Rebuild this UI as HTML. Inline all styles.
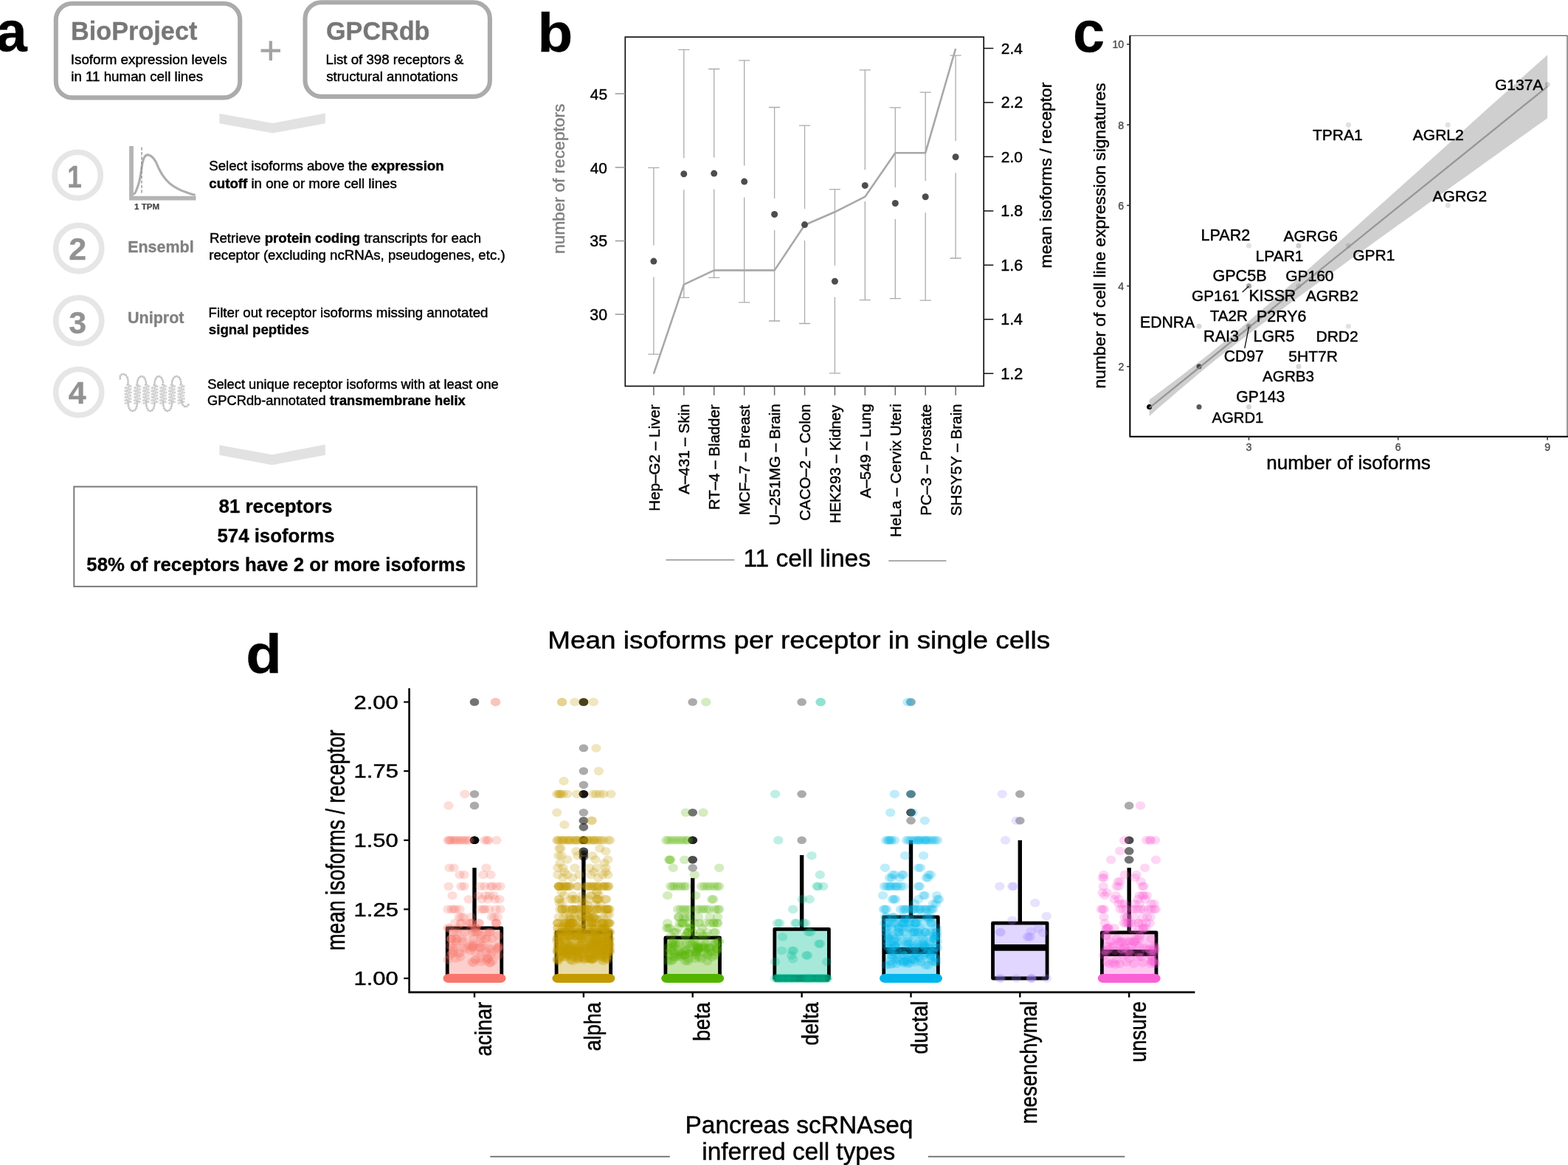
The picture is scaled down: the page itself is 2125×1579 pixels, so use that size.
<!DOCTYPE html>
<html lang="en"><head><meta charset="utf-8"><title>Figure</title>
<style>
html,body{margin:0;padding:0;background:#fff;}
body{width:2125px;height:1579px;overflow:hidden;}
svg{display:block;font-family:"Liberation Sans",sans-serif;}
ellipse.j{rx:6.7px;ry:5.8px;}
ellipse.o{rx:6.3px;ry:5.3px;}
</style></head><body>
<svg width="2125" height="1579" viewBox="0 0 2125 1579">
<rect width="2125" height="1579" fill="#fff"/>
<g id="panel-a">
<text  transform="translate(-5.58,69.20) scale(0.9920,1)" font-size="76.50" fill="#000" stroke="#000" stroke-width="0.32"><tspan font-weight="bold">a</tspan></text>
<rect x="75.8" y="4.7" width="249.4" height="127.7" rx="22" ry="22" fill="none" stroke="#ababab" stroke-width="6.1"/>
<rect x="413.5" y="3.2" width="250.4" height="127.7" rx="22" ry="22" fill="none" stroke="#ababab" stroke-width="6.1"/>
<text x="96.07" y="54.20" font-size="34.25" fill="#777" stroke="#777" stroke-width="0.32"><tspan font-weight="bold">BioProject</tspan></text>
<text x="95.81" y="87.00" font-size="18.77" fill="#000" stroke="#000" stroke-width="0.45">Isoform expression levels</text>
<text x="96.28" y="110.10" font-size="18.74" fill="#000" stroke="#000" stroke-width="0.45">in 11 human cell lines</text>
<text x="442.03" y="53.80" font-size="34.19" fill="#777" stroke="#777" stroke-width="0.32"><tspan font-weight="bold">GPCRdb</tspan></text>
<text x="441.51" y="87.00" font-size="18.67" fill="#000" stroke="#000" stroke-width="0.45">List of 398 receptors &amp;</text>
<text x="442.14" y="110.10" font-size="18.67" fill="#000" stroke="#000" stroke-width="0.45">structural annotations</text>
<path d="M353.6 68.7H380M366.8 55.5V82" stroke="#a3a3a3" stroke-width="4.3" fill="none"/>
<polygon points="297.4,154 369.7,167 440.8,153.5 440.8,167.2 369.7,180.5 297.4,167.2" fill="#e2e2e2"/>
<polygon points="297.4,603.2 368.6,616.2 440.8,602.6 440.8,616.7 368.6,630.3 297.4,616.7" fill="#e2e2e2"/>
<circle cx="105.2" cy="237.4" r="31.1" fill="none" stroke="#e6e6e6" stroke-width="7.6"/>
<text  transform="translate(91.31,253.80) scale(0.8200,1)" font-size="43.00" fill="#929292" stroke="#929292" stroke-width="0.32"><tspan font-weight="bold">1</tspan></text>
<circle cx="106.7" cy="336.5" r="31.1" fill="none" stroke="#e6e6e6" stroke-width="7.6"/>
<text x="93.17" y="352.30" font-size="43.00" fill="#929292" stroke="#929292" stroke-width="0.32"><tspan font-weight="bold">2</tspan></text>
<circle cx="106.7" cy="434.6" r="31.1" fill="none" stroke="#e6e6e6" stroke-width="7.6"/>
<text x="93.28" y="452.00" font-size="43.00" fill="#929292" stroke="#929292" stroke-width="0.32"><tspan font-weight="bold">3</tspan></text>
<circle cx="106.7" cy="531.6" r="31.1" fill="none" stroke="#e6e6e6" stroke-width="7.6"/>
<text x="92.85" y="547.20" font-size="43.00" fill="#929292" stroke="#929292" stroke-width="0.32"><tspan font-weight="bold">4</tspan></text>
<path d="M178 197.9V268.7H265.5" fill="none" stroke="#b4b4b4" stroke-width="5.8"/>
<path d="M180.6 263.2C181.0 262.9 182.2 262.7 183.0 261.6C183.8 260.5 184.4 258.9 185.3 256.5C186.2 254.1 187.6 250.7 188.5 247.0C189.4 243.3 190.3 238.5 191.0 234.3C191.7 230.1 192.2 225.2 192.9 221.7C193.7 218.2 194.3 215.4 195.5 213.4C196.7 211.4 198.2 210.1 199.9 209.9C201.6 209.7 203.8 210.8 205.6 212.2C207.4 213.6 209.0 215.7 210.7 218.5C212.4 221.3 214.0 226.0 215.7 229.3C217.4 232.6 218.5 234.9 220.8 238.1C223.1 241.3 226.1 245.2 229.7 248.3C233.3 251.4 238.1 254.3 242.3 256.5C246.5 258.7 251.3 260.2 255.0 261.6C258.7 263.0 263.0 264.1 264.6 264.6" fill="none" stroke="#adadad" stroke-width="3.1"/>
<path d="M192 199.6V263" stroke="#8c8c8c" stroke-width="1.3" stroke-dasharray="4.2 2.2" fill="none"/>
<text x="182.01" y="283.50" font-size="11.58" fill="#444" stroke="#444" stroke-width="0.21"><tspan font-weight="bold">1 TPM</tspan></text>
<text x="173.20" y="341.50" font-size="21.46" fill="#818181" stroke="#818181" stroke-width="0.32"><tspan font-weight="bold">Ensembl</tspan></text>
<text x="173.01" y="438.40" font-size="21.52" fill="#818181" stroke="#818181" stroke-width="0.32"><tspan font-weight="bold">Uniprot</tspan></text>
<text x="283.26" y="231.30" font-size="18.67" fill="#000" stroke="#000" stroke-width="0.45">Select isoforms above the <tspan font-weight="bold">expression</tspan></text>
<text x="283.35" y="254.50" font-size="18.69" fill="#000" stroke="#000" stroke-width="0.45"><tspan font-weight="bold">cutoff</tspan> in one or more cell lines</text>
<text x="284.01" y="328.70" font-size="18.67" fill="#000" stroke="#000" stroke-width="0.45">Retrieve <tspan font-weight="bold">protein coding</tspan> transcripts for each</text>
<text x="283.29" y="352.30" font-size="18.67" fill="#000" stroke="#000" stroke-width="0.45">receptor (excluding ncRNAs, pseudogenes, etc.)</text>
<text x="282.61" y="429.70" font-size="18.68" fill="#000" stroke="#000" stroke-width="0.45">Filter out receptor isoforms missing annotated</text>
<text x="282.85" y="452.90" font-size="18.70" fill="#000" stroke="#000" stroke-width="0.32"><tspan font-weight="bold">signal peptides</tspan></text>
<text x="281.18" y="526.60" font-size="18.31" fill="#000" stroke="#000" stroke-width="0.45">Select unique receptor isoforms with at least one</text>
<text x="281.09" y="549.40" font-size="18.29" fill="#000" stroke="#000" stroke-width="0.45">GPCRdb-annotated <tspan font-weight="bold">transmembrane helix</tspan></text>
<g fill="none" stroke-linecap="round" stroke-linejoin="round">
<path d="M172.5 521.5L177.7 523.6L169.3 525.7L177.7 527.8L169.3 529.9L177.7 532.0L169.3 534.1L177.7 536.2L169.3 538.3L177.7 540.4L169.3 542.5L177.7 544.6L169.3 546.7M185.0 521.5L190.2 523.6L181.8 525.7L190.2 527.8L181.8 529.9L190.2 532.0L181.8 534.1L190.2 536.2L181.8 538.3L190.2 540.4L181.8 542.5L190.2 544.6L181.8 546.7M197.0 521.5L202.2 523.6L193.8 525.7L202.2 527.8L193.8 529.9L202.2 532.0L193.8 534.1L202.2 536.2L193.8 538.3L202.2 540.4L193.8 542.5L202.2 544.6L193.8 546.7M208.5 521.5L213.7 523.6L205.3 525.7L213.7 527.8L205.3 529.9L213.7 532.0L205.3 534.1L213.7 536.2L205.3 538.3L213.7 540.4L205.3 542.5L213.7 544.6L205.3 546.7M220.0 521.5L225.2 523.6L216.8 525.7L225.2 527.8L216.8 529.9L225.2 532.0L216.8 534.1L225.2 536.2L216.8 538.3L225.2 540.4L216.8 542.5L225.2 544.6L216.8 546.7M232.0 521.5L237.2 523.6L228.8 525.7L237.2 527.8L228.8 529.9L237.2 532.0L228.8 534.1L237.2 536.2L228.8 538.3L237.2 540.4L228.8 542.5L237.2 544.6L228.8 546.7M244.5 521.5L249.7 523.6L241.3 525.7L249.7 527.8L241.3 529.9L249.7 532.0L241.3 534.1L249.7 536.2L241.3 538.3L249.7 540.4L241.3 542.5L249.7 544.6L241.3 546.7" stroke="#e4e4e4" stroke-width="3.0" stroke-opacity="0.8"/>
<path d="M172.5 521.5L177.7 523.6L169.3 525.7L177.7 527.8L169.3 529.9L177.7 532.0L169.3 534.1L177.7 536.2L169.3 538.3L177.7 540.4L169.3 542.5L177.7 544.6L169.3 546.7M185.0 521.5L190.2 523.6L181.8 525.7L190.2 527.8L181.8 529.9L190.2 532.0L181.8 534.1L190.2 536.2L181.8 538.3L190.2 540.4L181.8 542.5L190.2 544.6L181.8 546.7M197.0 521.5L202.2 523.6L193.8 525.7L202.2 527.8L193.8 529.9L202.2 532.0L193.8 534.1L202.2 536.2L193.8 538.3L202.2 540.4L193.8 542.5L202.2 544.6L193.8 546.7M208.5 521.5L213.7 523.6L205.3 525.7L213.7 527.8L205.3 529.9L213.7 532.0L205.3 534.1L213.7 536.2L205.3 538.3L213.7 540.4L205.3 542.5L213.7 544.6L205.3 546.7M220.0 521.5L225.2 523.6L216.8 525.7L225.2 527.8L216.8 529.9L225.2 532.0L216.8 534.1L225.2 536.2L216.8 538.3L225.2 540.4L216.8 542.5L225.2 544.6L216.8 546.7M232.0 521.5L237.2 523.6L228.8 525.7L237.2 527.8L228.8 529.9L237.2 532.0L228.8 534.1L237.2 536.2L228.8 538.3L237.2 540.4L228.8 542.5L237.2 544.6L228.8 546.7M244.5 521.5L249.7 523.6L241.3 525.7L249.7 527.8L241.3 529.9L249.7 532.0L241.3 534.1L249.7 536.2L241.3 538.3L249.7 540.4L241.3 542.5L249.7 544.6L241.3 546.7" stroke="#cdcdcd" stroke-width="2.3" stroke-dasharray="0.01 3.1"/>
<path d="M162.8 513 C161.5 507.5 167.5 505 171 509 C174 512.5 173.5 518 173.5 522M173.5 544C173.0 561.5 186.5 561.5 186.0 544M186.0 522C185.5 506 198.5 506 198.0 522M198.0 544C197.5 561.5 210.0 561.5 209.5 544M209.5 522C209.0 506 221.5 506 221.0 522M221.0 544C220.5 561.5 233.5 561.5 233.0 544M233.0 522C232.5 506 246.0 506 245.5 522M245.5 543C247 550 250.5 552.5 253.5 550.5L257 546.5" stroke="#c4c4c4" stroke-width="3.0" stroke-dasharray="0.01 3.1"/>
</g>
<rect x="100.3" y="659.6" width="545.8" height="135.3" fill="none" stroke="#7a7a7a" stroke-width="2"/>
<text x="296.62" y="695.20" font-size="25.86" fill="#000" stroke="#000" stroke-width="0.32"><tspan font-weight="bold">81 receptors</tspan></text>
<text x="294.43" y="734.70" font-size="25.82" fill="#000" stroke="#000" stroke-width="0.32"><tspan font-weight="bold">574 isoforms</tspan></text>
<text x="117.33" y="774.30" font-size="25.75" fill="#000" stroke="#000" stroke-width="0.32"><tspan font-weight="bold">58% of receptors have 2 or more isoforms</tspan></text>
</g>
<g id="panel-b">
<text  transform="translate(728.62,69.90) scale(1.0429,1)" font-size="75.00" fill="#000" stroke="#000" stroke-width="0.32"><tspan font-weight="bold">b</tspan></text>
<path d="M878.3 227.3H893.5M885.9 227.3V332.6M885.9 375.6V480.2M878.3 480.2H893.5M919.2 67.3H934.4M926.8 67.3V214.2M926.8 257.2V403.4M919.2 403.4H934.4M960.1 93.5H975.3M967.7 93.5V213.6M967.7 256.6V376.4M960.1 376.4H975.3M1001.1 81.9H1016.3M1008.7 81.9V224.6M1008.7 267.6V409.9M1001.1 409.9H1016.3M1042.0 145.5H1057.2M1049.6 145.5V269.0M1049.6 312.0V435.0M1042.0 435.0H1057.2M1082.9 170.2H1098.1M1090.5 170.2V283.1M1090.5 326.1V438.5M1082.9 438.5H1098.1M1123.8 256.7H1139.0M1131.4 256.7V359.8M1131.4 402.8V505.9M1123.8 505.9H1139.0M1164.7 94.9H1179.9M1172.3 94.9V229.9M1172.3 272.9V406.7M1164.7 406.7H1179.9M1205.7 145.8H1220.9M1213.3 145.8V254.0M1213.3 297.0V404.6M1205.7 404.6H1220.9M1246.6 125.2H1261.8M1254.2 125.2V245.2M1254.2 288.2V407.1M1246.6 407.1H1261.8M1287.5 75.1H1302.7M1295.1 75.1V191.2M1295.1 234.2V350.0M1287.5 350.0H1302.7" fill="none" stroke="#ababab" stroke-width="1.3"/>
<polyline points="885.9,506.6 926.8,385.6 967.7,366.4 1008.7,366.4 1049.6,366.4 1090.5,305.0 1131.4,287.3 1172.3,266.7 1213.3,207.2 1254.2,207.2 1295.1,66.0" fill="none" stroke="#a8a8a8" stroke-width="2.6" stroke-linejoin="round"/>
<circle cx="885.9" cy="354.1" r="4.5" fill="#4d4d4d"/>
<circle cx="926.8" cy="235.7" r="4.5" fill="#4d4d4d"/>
<circle cx="967.7" cy="235.1" r="4.5" fill="#4d4d4d"/>
<circle cx="1008.7" cy="246.1" r="4.5" fill="#4d4d4d"/>
<circle cx="1049.6" cy="290.5" r="4.5" fill="#4d4d4d"/>
<circle cx="1090.5" cy="304.6" r="4.5" fill="#4d4d4d"/>
<circle cx="1131.4" cy="381.3" r="4.5" fill="#4d4d4d"/>
<circle cx="1172.3" cy="251.4" r="4.5" fill="#4d4d4d"/>
<circle cx="1213.3" cy="275.5" r="4.5" fill="#4d4d4d"/>
<circle cx="1254.2" cy="266.7" r="4.5" fill="#4d4d4d"/>
<circle cx="1295.1" cy="212.7" r="4.5" fill="#4d4d4d"/>
<rect x="847.3" y="50.2" width="485.9" height="473.2" fill="none" stroke="#111" stroke-width="1.7"/>
<path d="M833.7 127.0H847.3" stroke="#999" stroke-width="1.5"/>
<text x="799.78" y="134.60" font-size="20.95" fill="#000" stroke="#000" stroke-width="0.45">45</text>
<path d="M833.7 226.9H847.3" stroke="#999" stroke-width="1.5"/>
<text x="799.78" y="234.50" font-size="20.85" fill="#000" stroke="#000" stroke-width="0.45">40</text>
<path d="M833.7 326.5H847.3" stroke="#999" stroke-width="1.5"/>
<text x="799.35" y="334.10" font-size="21.36" fill="#000" stroke="#000" stroke-width="0.45">35</text>
<path d="M833.7 426.0H847.3" stroke="#999" stroke-width="1.5"/>
<text x="799.35" y="433.60" font-size="21.26" fill="#000" stroke="#000" stroke-width="0.45">30</text>
<path d="M1333.2 65.5H1346.3" stroke="#111" stroke-width="1.5"/>
<text x="1356.85" y="72.80" font-size="20.92" fill="#000" stroke="#000" stroke-width="0.45">2.4</text>
<path d="M1333.2 138.9H1346.3" stroke="#111" stroke-width="1.5"/>
<text x="1356.84" y="146.25" font-size="21.24" fill="#000" stroke="#000" stroke-width="0.45">2.2</text>
<path d="M1333.2 212.4H1346.3" stroke="#111" stroke-width="1.5"/>
<text x="1356.85" y="219.70" font-size="21.00" fill="#000" stroke="#000" stroke-width="0.45">2.0</text>
<path d="M1333.2 285.9H1346.3" stroke="#111" stroke-width="1.5"/>
<text x="1356.29" y="293.15" font-size="21.49" fill="#000" stroke="#000" stroke-width="0.45">1.8</text>
<path d="M1333.2 359.3H1346.3" stroke="#111" stroke-width="1.5"/>
<text x="1356.29" y="366.60" font-size="21.49" fill="#000" stroke="#000" stroke-width="0.45">1.6</text>
<path d="M1333.2 432.8H1346.3" stroke="#111" stroke-width="1.5"/>
<text x="1356.30" y="440.05" font-size="21.32" fill="#000" stroke="#000" stroke-width="0.45">1.4</text>
<path d="M1333.2 506.2H1346.3" stroke="#111" stroke-width="1.5"/>
<text x="1356.28" y="513.50" font-size="21.66" fill="#000" stroke="#000" stroke-width="0.45">1.2</text>
<path d="M885.9 523.4V535.8M926.8 523.4V535.8M967.7 523.4V535.8M1008.7 523.4V535.8M1049.6 523.4V535.8M1090.5 523.4V535.8M1131.4 523.4V535.8M1172.3 523.4V535.8M1213.3 523.4V535.8M1254.2 523.4V535.8M1295.1 523.4V535.8" stroke="#666" stroke-width="1.5"/>
<text transform="translate(893.50,692.65) rotate(-90) scale(1.0152,1.0000)" font-size="20.30" fill="#000" stroke="#000" stroke-width="0.45">Hep–G2 – Liver</text>
<text transform="translate(934.42,669.90) rotate(-90) scale(1.0145,1.0000)" font-size="20.30" fill="#000" stroke="#000" stroke-width="0.45">A–431 – Skin</text>
<text transform="translate(975.34,691.03) rotate(-90) scale(1.0060,1.0000)" font-size="20.30" fill="#000" stroke="#000" stroke-width="0.45">RT–4 – Bladder</text>
<text transform="translate(1016.26,698.14) rotate(-90) scale(1.0119,1.0000)" font-size="20.30" fill="#000" stroke="#000" stroke-width="0.45">MCF–7 – Breast</text>
<text transform="translate(1057.18,711.64) rotate(-90) scale(1.0109,1.0000)" font-size="20.30" fill="#000" stroke="#000" stroke-width="0.45">U–251MG – Brain</text>
<text transform="translate(1098.10,705.72) rotate(-90) scale(1.0098,1.0000)" font-size="20.30" fill="#000" stroke="#000" stroke-width="0.45">CACO–2 – Colon</text>
<text transform="translate(1139.02,709.13) rotate(-90) scale(1.0010,1.0000)" font-size="20.30" fill="#000" stroke="#000" stroke-width="0.45">HEK293 – Kidney</text>
<text transform="translate(1179.94,675.30) rotate(-90) scale(1.0124,1.0000)" font-size="20.30" fill="#000" stroke="#000" stroke-width="0.45">A–549 – Lung</text>
<text transform="translate(1220.86,728.06) rotate(-90) scale(1.0202,1.0000)" font-size="20.30" fill="#000" stroke="#000" stroke-width="0.45">HeLa – Cervix Uteri</text>
<text transform="translate(1261.78,698.85) rotate(-90) scale(1.0146,1.0000)" font-size="20.30" fill="#000" stroke="#000" stroke-width="0.45">PC–3 – Prostate</text>
<text transform="translate(1302.70,699.33) rotate(-90) scale(1.0151,1.0000)" font-size="20.30" fill="#000" stroke="#000" stroke-width="0.45">SHSY5Y – Brain</text>
<text transform="translate(765.40,343.88) rotate(-90) scale(1.0000,1.0000)" font-size="22.73" fill="#808080" stroke="#808080" stroke-width="0.45">number of receptors</text>
<text transform="translate(1424.90,363.48) rotate(-90) scale(1.0000,1.0000)" font-size="22.78" fill="#000" stroke="#000" stroke-width="0.45">mean isoforms / receptor</text>
<text x="1007.39" y="767.50" font-size="33.51" fill="#000" stroke="#000" stroke-width="0.45">11 cell lines</text>
<path d="M902.4 758.8H995.3M1204.2 760.2H1282.4" stroke="#a0a0a0" stroke-width="1.7"/>
</g>
<g id="panel-c">
<text  transform="translate(1454.10,69.50) scale(1.0003,1)" font-size="77.50" fill="#000" stroke="#000" stroke-width="0.32"><tspan font-weight="bold">c</tspan></text>
<polygon points="1557.6,541.7 1571.1,531.7 1584.6,521.6 1598.1,511.4 1611.6,501.1 1625.0,490.6 1638.5,479.9 1652.0,469.1 1665.5,458.0 1679.0,446.7 1692.5,435.2 1706.0,423.6 1719.5,411.9 1732.9,400.1 1746.4,388.3 1759.9,376.4 1773.4,364.5 1786.9,352.5 1800.4,340.5 1813.9,328.5 1827.4,316.4 1840.8,304.4 1854.3,292.3 1867.8,280.3 1881.3,268.2 1894.8,256.1 1908.3,244.0 1921.8,231.9 1935.3,219.8 1948.8,207.7 1962.2,195.6 1975.7,183.5 1989.2,171.4 2002.7,159.3 2016.2,147.1 2029.7,135.0 2043.2,122.9 2056.7,110.8 2070.1,98.6 2083.6,86.5 2097.1,74.4 2097.1,160.2 2083.6,169.8 2070.1,179.5 2056.7,189.1 2043.2,198.8 2029.7,208.4 2016.2,218.1 2002.7,227.7 1989.2,237.4 1975.7,247.1 1962.2,256.7 1948.8,266.4 1935.3,276.1 1921.8,285.7 1908.3,295.4 1894.8,305.1 1881.3,314.8 1867.8,324.5 1854.3,334.2 1840.8,343.9 1827.4,353.6 1813.9,363.4 1800.4,373.1 1786.9,382.9 1773.4,392.7 1759.9,402.6 1746.4,412.4 1732.9,422.4 1719.5,432.4 1706.0,442.4 1692.5,452.6 1679.0,462.9 1665.5,473.4 1652.0,484.1 1638.5,495.0 1625.0,506.1 1611.6,517.4 1598.1,528.8 1584.6,540.4 1571.1,552.1 1557.6,563.9" fill="#999" fill-opacity="0.47"/>
<circle cx="1557.6" cy="551.4" r="3.5" fill="#000" fill-opacity="1.0"/>
<circle cx="1625.0" cy="551.4" r="3.5" fill="#222" fill-opacity="0.75"/>
<circle cx="1625.0" cy="496.8" r="3.5" fill="#222" fill-opacity="0.8"/>
<circle cx="1692.5" cy="551.4" r="3.5" fill="#333" fill-opacity="0.2"/>
<circle cx="1625.0" cy="442.2" r="3.5" fill="#333" fill-opacity="0.2"/>
<circle cx="1692.5" cy="442.2" r="3.5" fill="#333" fill-opacity="0.4"/>
<circle cx="1692.5" cy="387.6" r="3.5" fill="#333" fill-opacity="0.45"/>
<circle cx="1692.5" cy="333.0" r="3.5" fill="#333" fill-opacity="0.15"/>
<circle cx="1759.9" cy="333.0" r="3.5" fill="#333" fill-opacity="0.25"/>
<circle cx="1827.4" cy="333.0" r="3.5" fill="#333" fill-opacity="0.15"/>
<circle cx="1759.9" cy="387.6" r="3.5" fill="#333" fill-opacity="0.15"/>
<circle cx="1759.9" cy="496.8" r="3.5" fill="#333" fill-opacity="0.2"/>
<circle cx="1827.4" cy="442.2" r="3.5" fill="#333" fill-opacity="0.15"/>
<circle cx="1827.4" cy="169.2" r="3.5" fill="#333" fill-opacity="0.15"/>
<circle cx="1962.2" cy="169.2" r="3.5" fill="#333" fill-opacity="0.15"/>
<circle cx="1962.2" cy="278.4" r="3.5" fill="#333" fill-opacity="0.15"/>
<circle cx="2097.1" cy="114.6" r="3.5" fill="#333" fill-opacity="0.2"/>
<path d="M1557.6 552.8L2097.1 117.3" stroke="#8c8c8c" stroke-opacity="0.85" stroke-width="2.3" fill="none"/>
<path d="M1683.7 396L1692.3 388M1686.8 472L1692.7 442.5" stroke="#111" stroke-width="1.3" fill="none"/>
<rect x="1531.4" y="48.3" width="592.6" height="543.4" fill="none" stroke="#555" stroke-width="1.2"/>
<path d="M1531.4 48.3V591.7H2125" fill="none" stroke="#000" stroke-width="2"/>
<path d="M1527.2 496.8H1531.4" stroke="#333" stroke-width="1.6"/>
<text  transform="translate(1515.50,502.20) scale(0.9500,1)" font-size="15.00" fill="#4d4d4d" stroke="#4d4d4d" stroke-width="0.38">2</text>
<path d="M1527.2 387.6H1531.4" stroke="#333" stroke-width="1.6"/>
<text  transform="translate(1515.22,393.00) scale(0.9500,1)" font-size="15.00" fill="#4d4d4d" stroke="#4d4d4d" stroke-width="0.38">4</text>
<path d="M1527.2 278.4H1531.4" stroke="#333" stroke-width="1.6"/>
<text  transform="translate(1515.36,283.80) scale(0.9500,1)" font-size="15.00" fill="#4d4d4d" stroke="#4d4d4d" stroke-width="0.38">6</text>
<path d="M1527.2 169.2H1531.4" stroke="#333" stroke-width="1.6"/>
<text  transform="translate(1515.36,174.60) scale(0.9500,1)" font-size="15.00" fill="#4d4d4d" stroke="#4d4d4d" stroke-width="0.38">8</text>
<path d="M1527.2 60.0H1531.4" stroke="#333" stroke-width="1.6"/>
<text  transform="translate(1507.38,65.40) scale(0.9500,1)" font-size="15.00" fill="#4d4d4d" stroke="#4d4d4d" stroke-width="0.38">10</text>
<path d="M1692.5 591.7V596.6" stroke="#333" stroke-width="1.6"/>
<text  transform="translate(1688.53,610.60) scale(0.9500,1)" font-size="15.00" fill="#4d4d4d" stroke="#4d4d4d" stroke-width="0.38">3</text>
<path d="M1894.8 591.7V596.6" stroke="#333" stroke-width="1.6"/>
<text  transform="translate(1890.77,610.60) scale(0.9500,1)" font-size="15.00" fill="#4d4d4d" stroke="#4d4d4d" stroke-width="0.38">6</text>
<path d="M2097.1 591.7V596.6" stroke="#333" stroke-width="1.6"/>
<text  transform="translate(2093.17,610.60) scale(0.9500,1)" font-size="15.00" fill="#4d4d4d" stroke="#4d4d4d" stroke-width="0.38">9</text>
<text x="2025.95" y="121.90" font-size="21.00" fill="#000" stroke="#000" stroke-width="0.45">G137A</text>
<text x="1778.98" y="190.30" font-size="21.00" fill="#000" stroke="#000" stroke-width="0.45">TPRA1</text>
<text x="1914.80" y="190.30" font-size="21.00" fill="#000" stroke="#000" stroke-width="0.45">AGRL2</text>
<text x="1941.60" y="272.60" font-size="21.00" fill="#000" stroke="#000" stroke-width="0.45">AGRG2</text>
<text x="1627.58" y="326.40" font-size="21.52" fill="#000" stroke="#000" stroke-width="0.45">LPAR2</text>
<text x="1739.40" y="326.80" font-size="21.00" fill="#000" stroke="#000" stroke-width="0.45">AGRG6</text>
<text x="1701.52" y="353.60" font-size="21.00" fill="#000" stroke="#000" stroke-width="0.45">LPAR1</text>
<text x="1833.15" y="353.20" font-size="21.00" fill="#000" stroke="#000" stroke-width="0.45">GPR1</text>
<text x="1643.42" y="380.60" font-size="21.58" fill="#000" stroke="#000" stroke-width="0.45">GPC5B</text>
<text x="1742.15" y="381.40" font-size="21.00" fill="#000" stroke="#000" stroke-width="0.45">GP160</text>
<text x="1615.06" y="408.20" font-size="20.80" fill="#000" stroke="#000" stroke-width="0.45">GP161</text>
<text x="1692.40" y="408.20" font-size="21.25" fill="#000" stroke="#000" stroke-width="0.45">KISSR</text>
<text x="1769.70" y="408.20" font-size="21.00" fill="#000" stroke="#000" stroke-width="0.45">AGRB2</text>
<text x="1639.69" y="435.40" font-size="20.58" fill="#000" stroke="#000" stroke-width="0.45">TA2R</text>
<text x="1703.09" y="436.00" font-size="21.35" fill="#000" stroke="#000" stroke-width="0.45">P2RY6</text>
<text x="1545.00" y="444.40" font-size="21.20" fill="#000" stroke="#000" stroke-width="0.45">EDNRA</text>
<text x="1631.07" y="463.00" font-size="21.57" fill="#000" stroke="#000" stroke-width="0.45">RAI3</text>
<text x="1698.59" y="463.00" font-size="21.37" fill="#000" stroke="#000" stroke-width="0.45">LGR5</text>
<text x="1783.52" y="463.40" font-size="21.00" fill="#000" stroke="#000" stroke-width="0.45">DRD2</text>
<text x="1658.64" y="490.00" font-size="21.22" fill="#000" stroke="#000" stroke-width="0.45">CD97</text>
<text x="1746.36" y="490.40" font-size="21.00" fill="#000" stroke="#000" stroke-width="0.45">5HT7R</text>
<text x="1711.10" y="517.30" font-size="20.63" fill="#000" stroke="#000" stroke-width="0.45">AGRB3</text>
<text x="1675.34" y="545.00" font-size="21.16" fill="#000" stroke="#000" stroke-width="0.45">GP143</text>
<text x="1642.60" y="573.30" font-size="20.26" fill="#000" stroke="#000" stroke-width="0.45">AGRD1</text>
<text x="1716.21" y="636.00" font-size="26.03" fill="#000" stroke="#000" stroke-width="0.45">number of isoforms</text>
<text transform="translate(1498.30,526.49) rotate(-90) scale(1.0000,1.0000)" font-size="22.86" fill="#000" stroke="#000" stroke-width="0.45">number of cell line expression signatures</text>
</g>
<g id="panel-d">
<text  transform="translate(333.22,912.30) scale(1.0587,1)" font-size="75.00" fill="#000" stroke="#000" stroke-width="0.32"><tspan font-weight="bold">d</tspan></text>
<text  transform="translate(742.25,878.90) scale(1.1052,1)" font-size="33.40" fill="#000" stroke="#000" stroke-width="0.45">Mean isoforms per receptor in single cells</text>
<g><rect x="606.2" y="1257.8" width="73.6" height="68.2" fill="#F8766D" fill-opacity="0.35" stroke="none"/><path d="M643.0 1257.8V1176.2" stroke="#000" stroke-width="5.4" fill="none"/><rect x="606.2" y="1257.8" width="73.6" height="68.2" fill="none" stroke="#000" stroke-width="4.8" stroke-linejoin="round"/><path d="M606.2 1326.0H679.8" stroke="#000" stroke-width="8.8" fill="none"/><g fill="#000" fill-opacity="0.33"><ellipse class="o" cx="643.0" cy="951.5"/><ellipse class="o" cx="643.0" cy="951.5"/><ellipse class="o" cx="643.0" cy="1076.2"/><ellipse class="o" cx="643.0" cy="1091.9"/><ellipse class="o" cx="643.0" cy="1138.8"/><ellipse class="o" cx="643.0" cy="1138.8"/><ellipse class="o" cx="643.0" cy="1138.8"/><ellipse class="o" cx="643.0" cy="1138.8"/><ellipse class="o" cx="643.0" cy="1138.8"/><ellipse class="o" cx="643.0" cy="1138.8"/><ellipse class="o" cx="643.0" cy="1138.8"/><ellipse class="o" cx="643.0" cy="1138.8"/></g><g fill="#F8766D" fill-opacity="0.25"><ellipse class="j" cx="620.2" cy="1257.8"/><ellipse class="j" cx="609.0" cy="1176.2"/><ellipse class="j" cx="648.0" cy="1213.7"/><ellipse class="j" cx="632.5" cy="1251.1"/><ellipse class="j" cx="630.5" cy="1263.5"/><ellipse class="j" cx="660.2" cy="1299.3"/><ellipse class="j" cx="671.3" cy="951.5"/><ellipse class="j" cx="611.2" cy="1272.5"/><ellipse class="j" cx="664.7" cy="1286.6"/><ellipse class="j" cx="665.0" cy="1294.8"/><ellipse class="j" cx="610.0" cy="1138.8"/><ellipse class="j" cx="616.4" cy="1251.1"/><ellipse class="j" cx="672.5" cy="1251.1"/><ellipse class="j" cx="666.0" cy="1290.3"/><ellipse class="j" cx="678.0" cy="1201.3"/><ellipse class="j" cx="637.2" cy="1288.5"/><ellipse class="j" cx="649.0" cy="1251.1"/><ellipse class="j" cx="644.9" cy="1301.0"/><ellipse class="j" cx="676.0" cy="1282.0"/><ellipse class="j" cx="658.0" cy="1213.7"/><ellipse class="j" cx="671.0" cy="1218.9"/><ellipse class="j" cx="621.0" cy="1138.8"/><ellipse class="j" cx="669.8" cy="1242.9"/><ellipse class="j" cx="641.6" cy="1272.5"/><ellipse class="j" cx="640.0" cy="1251.1"/><ellipse class="j" cx="624.0" cy="1138.8"/><ellipse class="j" cx="651.0" cy="1299.3"/><ellipse class="j" cx="622.2" cy="1242.9"/><ellipse class="j" cx="644.7" cy="1257.8"/><ellipse class="j" cx="666.5" cy="1242.9"/><ellipse class="j" cx="653.9" cy="1282.0"/><ellipse class="j" cx="672.1" cy="1251.1"/><ellipse class="j" cx="607.0" cy="1232.4"/><ellipse class="j" cx="625.7" cy="1251.1"/><ellipse class="j" cx="666.7" cy="1272.5"/><ellipse class="j" cx="628.1" cy="1242.9"/><ellipse class="j" cx="636.0" cy="1138.8"/><ellipse class="j" cx="641.1" cy="1263.5"/><ellipse class="j" cx="616.0" cy="1138.8"/><ellipse class="j" cx="649.0" cy="1284.4"/><ellipse class="j" cx="608.3" cy="1257.8"/><ellipse class="j" cx="652.4" cy="1292.0"/><ellipse class="j" cx="608.0" cy="1091.9"/><ellipse class="j" cx="644.3" cy="1263.5"/><ellipse class="j" cx="613.5" cy="1292.0"/><ellipse class="j" cx="607.0" cy="1138.8"/><ellipse class="j" cx="649.2" cy="1251.1"/><ellipse class="j" cx="671.8" cy="951.5"/><ellipse class="j" cx="644.3" cy="1290.3"/><ellipse class="j" cx="665.0" cy="1185.6"/><ellipse class="j" cx="651.2" cy="1284.4"/><ellipse class="j" cx="608.0" cy="1201.3"/><ellipse class="j" cx="673.0" cy="1201.3"/><ellipse class="j" cx="662.0" cy="1138.8"/><ellipse class="j" cx="638.7" cy="1257.8"/><ellipse class="j" cx="677.0" cy="1218.9"/><ellipse class="j" cx="617.9" cy="1299.3"/><ellipse class="j" cx="618.0" cy="1138.8"/><ellipse class="j" cx="673.0" cy="1138.8"/><ellipse class="j" cx="660.0" cy="1138.8"/><ellipse class="j" cx="623.3" cy="1292.0"/><ellipse class="j" cx="624.3" cy="1251.1"/><ellipse class="j" cx="672.0" cy="1232.4"/><ellipse class="j" cx="637.2" cy="1251.1"/><ellipse class="j" cx="619.0" cy="1272.5"/><ellipse class="j" cx="610.6" cy="1282.0"/><ellipse class="j" cx="618.7" cy="1276.1"/><ellipse class="j" cx="611.5" cy="1272.5"/><ellipse class="j" cx="657.0" cy="1232.4"/><ellipse class="j" cx="659.5" cy="1272.5"/><ellipse class="j" cx="650.9" cy="1279.2"/><ellipse class="j" cx="655.0" cy="1232.4"/><ellipse class="j" cx="614.0" cy="1284.4"/><ellipse class="j" cx="619.4" cy="1263.5"/><ellipse class="j" cx="617.7" cy="1282.0"/><ellipse class="j" cx="657.0" cy="1201.3"/><ellipse class="j" cx="675.5" cy="1294.8"/><ellipse class="j" cx="663.9" cy="1305.2"/><ellipse class="j" cx="661.0" cy="1218.9"/><ellipse class="j" cx="629.0" cy="1185.6"/><ellipse class="j" cx="640.3" cy="1282.0"/><ellipse class="j" cx="663.0" cy="1213.7"/><ellipse class="j" cx="659.2" cy="1263.5"/><ellipse class="j" cx="609.7" cy="1294.8"/><ellipse class="j" cx="613.0" cy="1138.8"/><ellipse class="j" cx="628.6" cy="1284.4"/><ellipse class="j" cx="623.0" cy="1185.6"/><ellipse class="j" cx="662.6" cy="1284.4"/><ellipse class="j" cx="651.0" cy="1232.4"/><ellipse class="j" cx="651.9" cy="1272.5"/><ellipse class="j" cx="661.6" cy="1299.3"/><ellipse class="j" cx="635.0" cy="1218.9"/><ellipse class="j" cx="674.2" cy="1242.9"/><ellipse class="j" cx="667.1" cy="1302.6"/><ellipse class="j" cx="607.3" cy="1257.8"/><ellipse class="j" cx="647.0" cy="1263.5"/><ellipse class="j" cx="629.9" cy="1076.2"/><ellipse class="j" cx="657.0" cy="1138.8"/><ellipse class="j" cx="674.7" cy="1284.4"/><ellipse class="j" cx="618.2" cy="1272.5"/><ellipse class="j" cx="655.0" cy="1185.6"/><ellipse class="j" cx="612.9" cy="1292.0"/><ellipse class="j" cx="647.1" cy="1263.5"/><ellipse class="j" cx="625.9" cy="1272.5"/><ellipse class="j" cx="659.2" cy="1302.6"/><ellipse class="j" cx="612.0" cy="1272.5"/><ellipse class="j" cx="635.7" cy="1282.0"/><ellipse class="j" cx="657.2" cy="1272.5"/><ellipse class="j" cx="652.8" cy="1268.4"/><ellipse class="j" cx="643.1" cy="1257.8"/><ellipse class="j" cx="637.3" cy="1251.1"/><ellipse class="j" cx="664.5" cy="1263.5"/><ellipse class="j" cx="627.5" cy="1276.1"/><ellipse class="j" cx="663.5" cy="1263.5"/><ellipse class="j" cx="674.2" cy="1286.6"/><ellipse class="j" cx="614.6" cy="1263.5"/><ellipse class="j" cx="641.1" cy="1284.4"/><ellipse class="j" cx="613.0" cy="1213.7"/><ellipse class="j" cx="623.7" cy="1297.2"/><ellipse class="j" cx="659.0" cy="1176.2"/><ellipse class="j" cx="641.5" cy="1305.2"/><ellipse class="j" cx="675.4" cy="1268.4"/><ellipse class="j" cx="645.3" cy="1257.8"/><ellipse class="j" cx="651.6" cy="1304.0"/><ellipse class="j" cx="661.0" cy="1299.3"/><ellipse class="j" cx="641.4" cy="1282.0"/><ellipse class="j" cx="639.2" cy="1284.4"/><ellipse class="j" cx="639.9" cy="1304.0"/><ellipse class="j" cx="609.0" cy="1138.8"/><ellipse class="j" cx="607.0" cy="1301.0"/><ellipse class="j" cx="630.0" cy="1138.8"/><ellipse class="j" cx="669.0" cy="1213.7"/><ellipse class="j" cx="638.2" cy="1242.9"/><ellipse class="j" cx="667.0" cy="1201.3"/><ellipse class="j" cx="678.0" cy="1232.4"/><ellipse class="j" cx="612.0" cy="1232.4"/><ellipse class="j" cx="615.0" cy="1176.2"/><ellipse class="j" cx="665.0" cy="1201.3"/><ellipse class="j" cx="629.0" cy="1201.3"/><ellipse class="j" cx="618.0" cy="1232.4"/><ellipse class="j" cx="663.0" cy="1232.4"/><ellipse class="j" cx="675.8" cy="1284.4"/><ellipse class="j" cx="651.0" cy="1201.3"/><ellipse class="j" cx="623.0" cy="1232.4"/><ellipse class="j" cx="673.1" cy="1251.1"/><ellipse class="j" cx="627.0" cy="1138.8"/><ellipse class="j" cx="631.5" cy="1286.6"/><ellipse class="j" cx="614.4" cy="1288.5"/><ellipse class="j" cx="615.0" cy="1232.4"/><ellipse class="j" cx="633.0" cy="1138.8"/><ellipse class="j" cx="625.0" cy="1201.3"/><ellipse class="j" cx="657.9" cy="1290.3"/><ellipse class="j" cx="640.5" cy="1279.2"/><ellipse class="j" cx="625.1" cy="1242.9"/><ellipse class="j" cx="621.4" cy="1292.0"/><ellipse class="j" cx="664.6" cy="1305.2"/><ellipse class="j" cx="643.9" cy="1301.0"/><ellipse class="j" cx="653.0" cy="1218.9"/></g><rect x="600.5" y="1320.0" width="85.0" height="12" rx="7" ry="6" fill="#F8766D"/></g>
<g><rect x="754.1" y="1263.5" width="73.6" height="62.5" fill="#C49A00" fill-opacity="0.35" stroke="none"/><path d="M790.9 1263.5V1161.2" stroke="#000" stroke-width="5.4" fill="none"/><rect x="754.1" y="1263.5" width="73.6" height="62.5" fill="none" stroke="#000" stroke-width="4.8" stroke-linejoin="round"/><path d="M754.1 1326.0H827.7" stroke="#000" stroke-width="8.8" fill="none"/><g fill="#000" fill-opacity="0.33"><ellipse class="o" cx="790.9" cy="951.5"/><ellipse class="o" cx="790.9" cy="951.5"/><ellipse class="o" cx="790.9" cy="951.5"/><ellipse class="o" cx="790.9" cy="951.5"/><ellipse class="o" cx="790.9" cy="951.5"/><ellipse class="o" cx="790.9" cy="1014.0"/><ellipse class="o" cx="790.9" cy="1045.1"/><ellipse class="o" cx="790.9" cy="1063.8"/><ellipse class="o" cx="790.9" cy="1076.2"/><ellipse class="o" cx="790.9" cy="1076.2"/><ellipse class="o" cx="790.9" cy="1076.2"/><ellipse class="o" cx="790.9" cy="1076.2"/><ellipse class="o" cx="790.9" cy="1076.2"/><ellipse class="o" cx="790.9" cy="1076.2"/><ellipse class="o" cx="790.9" cy="1101.3"/><ellipse class="o" cx="790.9" cy="1112.2"/><ellipse class="o" cx="790.9" cy="1112.2"/><ellipse class="o" cx="790.9" cy="1121.1"/><ellipse class="o" cx="790.9" cy="1121.1"/><ellipse class="o" cx="790.9" cy="1138.8"/><ellipse class="o" cx="790.9" cy="1138.8"/><ellipse class="o" cx="790.9" cy="1138.8"/><ellipse class="o" cx="790.9" cy="1138.8"/><ellipse class="o" cx="790.9" cy="1138.8"/><ellipse class="o" cx="790.9" cy="1138.8"/><ellipse class="o" cx="790.9" cy="1138.8"/><ellipse class="o" cx="790.9" cy="1138.8"/><ellipse class="o" cx="790.9" cy="1153.7"/><ellipse class="o" cx="790.9" cy="1153.7"/><ellipse class="o" cx="790.9" cy="1153.7"/><ellipse class="o" cx="790.9" cy="1157.5"/><ellipse class="o" cx="790.9" cy="1157.5"/><ellipse class="o" cx="790.9" cy="1161.2"/><ellipse class="o" cx="790.9" cy="1161.2"/></g><g fill="#C49A00" fill-opacity="0.25"><ellipse class="j" cx="781.5" cy="1263.5"/><ellipse class="j" cx="786.0" cy="1255.8"/><ellipse class="j" cx="806.6" cy="1279.2"/><ellipse class="j" cx="815.8" cy="1251.1"/><ellipse class="j" cx="772.8" cy="1268.4"/><ellipse class="j" cx="822.0" cy="1279.2"/><ellipse class="j" cx="815.4" cy="1297.2"/><ellipse class="j" cx="808.9" cy="1176.2"/><ellipse class="j" cx="789.1" cy="1263.5"/><ellipse class="j" cx="781.7" cy="1284.4"/><ellipse class="j" cx="768.5" cy="1286.6"/><ellipse class="j" cx="805.9" cy="1138.8"/><ellipse class="j" cx="766.7" cy="1263.5"/><ellipse class="j" cx="821.8" cy="1218.9"/><ellipse class="j" cx="819.0" cy="1284.4"/><ellipse class="j" cx="823.2" cy="1201.3"/><ellipse class="j" cx="820.9" cy="1181.8"/><ellipse class="j" cx="802.2" cy="1284.4"/><ellipse class="j" cx="801.1" cy="1255.8"/><ellipse class="j" cx="778.5" cy="1257.8"/><ellipse class="j" cx="817.7" cy="1257.8"/><ellipse class="j" cx="756.5" cy="1282.0"/><ellipse class="j" cx="823.0" cy="1276.1"/><ellipse class="j" cx="754.9" cy="1138.8"/><ellipse class="j" cx="770.9" cy="1138.8"/><ellipse class="j" cx="759.7" cy="1272.5"/><ellipse class="j" cx="816.5" cy="1201.3"/><ellipse class="j" cx="763.8" cy="1255.8"/><ellipse class="j" cx="803.9" cy="1076.2"/><ellipse class="j" cx="801.4" cy="1232.4"/><ellipse class="j" cx="818.6" cy="1201.3"/><ellipse class="j" cx="812.9" cy="1150.0"/><ellipse class="j" cx="758.4" cy="1276.1"/><ellipse class="j" cx="823.8" cy="1232.4"/><ellipse class="j" cx="819.1" cy="1232.4"/><ellipse class="j" cx="771.9" cy="1251.1"/><ellipse class="j" cx="825.4" cy="1272.5"/><ellipse class="j" cx="807.3" cy="1290.3"/><ellipse class="j" cx="805.4" cy="1251.1"/><ellipse class="j" cx="761.7" cy="1232.4"/><ellipse class="j" cx="811.4" cy="1045.1"/><ellipse class="j" cx="809.9" cy="1279.2"/><ellipse class="j" cx="800.3" cy="1239.6"/><ellipse class="j" cx="779.9" cy="1259.9"/><ellipse class="j" cx="773.0" cy="1257.8"/><ellipse class="j" cx="799.1" cy="1263.5"/><ellipse class="j" cx="758.3" cy="1223.8"/><ellipse class="j" cx="768.9" cy="1076.2"/><ellipse class="j" cx="806.4" cy="1288.5"/><ellipse class="j" cx="787.5" cy="1272.5"/><ellipse class="j" cx="769.0" cy="1279.2"/><ellipse class="j" cx="806.9" cy="1251.1"/><ellipse class="j" cx="766.9" cy="1290.3"/><ellipse class="j" cx="796.9" cy="1138.8"/><ellipse class="j" cx="766.3" cy="1232.4"/><ellipse class="j" cx="797.3" cy="1272.5"/><ellipse class="j" cx="766.8" cy="1268.4"/><ellipse class="j" cx="790.2" cy="1232.4"/><ellipse class="j" cx="755.9" cy="1176.2"/><ellipse class="j" cx="823.5" cy="1290.3"/><ellipse class="j" cx="788.2" cy="1242.9"/><ellipse class="j" cx="814.8" cy="1257.8"/><ellipse class="j" cx="789.6" cy="1257.8"/><ellipse class="j" cx="757.0" cy="1268.4"/><ellipse class="j" cx="778.9" cy="951.5"/><ellipse class="j" cx="817.9" cy="1076.2"/><ellipse class="j" cx="767.2" cy="1201.3"/><ellipse class="j" cx="811.9" cy="1138.8"/><ellipse class="j" cx="819.3" cy="1257.8"/><ellipse class="j" cx="801.9" cy="1301.0"/><ellipse class="j" cx="780.9" cy="1153.7"/><ellipse class="j" cx="762.9" cy="1189.7"/><ellipse class="j" cx="775.5" cy="1232.4"/><ellipse class="j" cx="824.5" cy="1232.4"/><ellipse class="j" cx="805.3" cy="1257.8"/><ellipse class="j" cx="810.5" cy="1288.5"/><ellipse class="j" cx="769.5" cy="1294.8"/><ellipse class="j" cx="804.9" cy="1138.8"/><ellipse class="j" cx="755.9" cy="1138.8"/><ellipse class="j" cx="798.2" cy="1218.9"/><ellipse class="j" cx="807.1" cy="1282.0"/><ellipse class="j" cx="766.5" cy="1292.0"/><ellipse class="j" cx="757.1" cy="1288.5"/><ellipse class="j" cx="821.7" cy="1232.4"/><ellipse class="j" cx="792.6" cy="1279.2"/><ellipse class="j" cx="767.2" cy="1239.6"/><ellipse class="j" cx="757.9" cy="1284.4"/><ellipse class="j" cx="820.0" cy="1294.8"/><ellipse class="j" cx="787.4" cy="1279.2"/><ellipse class="j" cx="820.6" cy="1290.3"/><ellipse class="j" cx="768.9" cy="1251.1"/><ellipse class="j" cx="821.8" cy="1263.5"/><ellipse class="j" cx="762.7" cy="1263.5"/><ellipse class="j" cx="826.0" cy="1290.3"/><ellipse class="j" cx="772.3" cy="1257.8"/><ellipse class="j" cx="773.5" cy="1251.1"/><ellipse class="j" cx="755.2" cy="1301.0"/><ellipse class="j" cx="771.6" cy="1294.8"/><ellipse class="j" cx="781.7" cy="1232.4"/><ellipse class="j" cx="758.9" cy="1076.2"/><ellipse class="j" cx="759.3" cy="1263.5"/><ellipse class="j" cx="758.2" cy="1276.1"/><ellipse class="j" cx="764.4" cy="1213.7"/><ellipse class="j" cx="773.8" cy="1272.5"/><ellipse class="j" cx="801.1" cy="1282.0"/><ellipse class="j" cx="769.2" cy="1292.0"/><ellipse class="j" cx="822.4" cy="1232.4"/><ellipse class="j" cx="820.7" cy="1279.2"/><ellipse class="j" cx="756.9" cy="1159.7"/><ellipse class="j" cx="756.7" cy="1290.3"/><ellipse class="j" cx="810.1" cy="1276.1"/><ellipse class="j" cx="771.5" cy="1242.9"/><ellipse class="j" cx="809.2" cy="1245.7"/><ellipse class="j" cx="810.1" cy="1288.5"/><ellipse class="j" cx="818.6" cy="1288.5"/><ellipse class="j" cx="808.5" cy="1232.4"/><ellipse class="j" cx="758.4" cy="1218.9"/><ellipse class="j" cx="756.0" cy="1272.5"/><ellipse class="j" cx="826.6" cy="1286.6"/><ellipse class="j" cx="766.3" cy="1276.1"/><ellipse class="j" cx="804.3" cy="1299.3"/><ellipse class="j" cx="808.5" cy="1272.5"/><ellipse class="j" cx="756.0" cy="1268.4"/><ellipse class="j" cx="789.2" cy="1213.7"/><ellipse class="j" cx="810.0" cy="1294.8"/><ellipse class="j" cx="823.9" cy="1185.6"/><ellipse class="j" cx="784.9" cy="1138.8"/><ellipse class="j" cx="818.1" cy="1255.8"/><ellipse class="j" cx="802.3" cy="1301.0"/><ellipse class="j" cx="783.5" cy="1272.5"/><ellipse class="j" cx="768.9" cy="1165.0"/><ellipse class="j" cx="798.2" cy="1290.3"/><ellipse class="j" cx="803.0" cy="1251.1"/><ellipse class="j" cx="801.6" cy="1294.8"/><ellipse class="j" cx="768.9" cy="1294.8"/><ellipse class="j" cx="823.6" cy="1201.3"/><ellipse class="j" cx="819.3" cy="1276.1"/><ellipse class="j" cx="764.9" cy="1117.8"/><ellipse class="j" cx="824.3" cy="1286.6"/><ellipse class="j" cx="767.4" cy="1297.2"/><ellipse class="j" cx="823.2" cy="1282.0"/><ellipse class="j" cx="816.3" cy="1251.1"/><ellipse class="j" cx="781.5" cy="1268.4"/><ellipse class="j" cx="825.2" cy="1279.2"/><ellipse class="j" cx="791.3" cy="1272.5"/><ellipse class="j" cx="825.3" cy="1286.6"/><ellipse class="j" cx="759.9" cy="1076.2"/><ellipse class="j" cx="773.0" cy="1279.2"/><ellipse class="j" cx="786.3" cy="1232.4"/><ellipse class="j" cx="778.2" cy="1286.6"/><ellipse class="j" cx="783.2" cy="1299.3"/><ellipse class="j" cx="780.5" cy="1290.3"/><ellipse class="j" cx="815.5" cy="1268.4"/><ellipse class="j" cx="758.1" cy="1279.2"/><ellipse class="j" cx="802.5" cy="1257.8"/><ellipse class="j" cx="779.9" cy="1232.4"/><ellipse class="j" cx="795.9" cy="1138.8"/><ellipse class="j" cx="782.6" cy="1268.4"/><ellipse class="j" cx="800.1" cy="1263.5"/><ellipse class="j" cx="782.5" cy="1301.0"/><ellipse class="j" cx="791.5" cy="1299.3"/><ellipse class="j" cx="790.7" cy="1297.2"/><ellipse class="j" cx="804.5" cy="1242.9"/><ellipse class="j" cx="765.4" cy="1263.5"/><ellipse class="j" cx="810.3" cy="1218.9"/><ellipse class="j" cx="811.4" cy="1282.0"/><ellipse class="j" cx="761.3" cy="1290.3"/><ellipse class="j" cx="755.0" cy="1276.1"/><ellipse class="j" cx="819.1" cy="1272.5"/><ellipse class="j" cx="811.3" cy="1279.2"/><ellipse class="j" cx="773.4" cy="1251.1"/><ellipse class="j" cx="809.1" cy="1209.0"/><ellipse class="j" cx="767.7" cy="1286.6"/><ellipse class="j" cx="785.6" cy="1288.5"/><ellipse class="j" cx="821.2" cy="1272.5"/><ellipse class="j" cx="796.9" cy="1290.3"/><ellipse class="j" cx="776.1" cy="1213.7"/><ellipse class="j" cx="757.6" cy="1268.4"/><ellipse class="j" cx="773.4" cy="1242.9"/><ellipse class="j" cx="796.9" cy="1255.8"/><ellipse class="j" cx="790.9" cy="1138.8"/><ellipse class="j" cx="782.9" cy="1290.3"/><ellipse class="j" cx="774.0" cy="1288.5"/><ellipse class="j" cx="802.7" cy="1276.1"/><ellipse class="j" cx="799.3" cy="1245.7"/><ellipse class="j" cx="754.7" cy="1101.3"/><ellipse class="j" cx="813.8" cy="1276.1"/><ellipse class="j" cx="755.1" cy="1288.5"/><ellipse class="j" cx="826.4" cy="1282.0"/><ellipse class="j" cx="819.3" cy="1257.8"/><ellipse class="j" cx="759.8" cy="1263.5"/><ellipse class="j" cx="762.5" cy="1292.0"/><ellipse class="j" cx="802.8" cy="1272.5"/><ellipse class="j" cx="782.0" cy="1297.2"/><ellipse class="j" cx="788.3" cy="1251.1"/><ellipse class="j" cx="800.8" cy="1263.5"/><ellipse class="j" cx="800.0" cy="1282.0"/><ellipse class="j" cx="797.6" cy="1242.9"/><ellipse class="j" cx="791.7" cy="1301.0"/><ellipse class="j" cx="822.8" cy="1272.5"/><ellipse class="j" cx="755.4" cy="1290.3"/><ellipse class="j" cx="779.1" cy="1218.9"/><ellipse class="j" cx="801.6" cy="1279.2"/><ellipse class="j" cx="806.7" cy="1276.1"/><ellipse class="j" cx="765.4" cy="1284.4"/><ellipse class="j" cx="799.9" cy="1138.8"/><ellipse class="j" cx="776.6" cy="1251.1"/><ellipse class="j" cx="809.3" cy="1201.3"/><ellipse class="j" cx="820.3" cy="1257.8"/><ellipse class="j" cx="808.9" cy="1232.4"/><ellipse class="j" cx="800.4" cy="1213.7"/><ellipse class="j" cx="782.9" cy="1159.7"/><ellipse class="j" cx="764.2" cy="1272.5"/><ellipse class="j" cx="799.4" cy="1279.2"/><ellipse class="j" cx="808.6" cy="1218.9"/><ellipse class="j" cx="769.9" cy="1284.4"/><ellipse class="j" cx="773.9" cy="1292.0"/><ellipse class="j" cx="807.0" cy="1245.7"/><ellipse class="j" cx="804.3" cy="1299.3"/><ellipse class="j" cx="756.3" cy="1257.8"/><ellipse class="j" cx="784.2" cy="1297.2"/><ellipse class="j" cx="797.0" cy="1201.3"/><ellipse class="j" cx="825.1" cy="1279.2"/><ellipse class="j" cx="798.5" cy="1242.9"/><ellipse class="j" cx="815.8" cy="1284.4"/><ellipse class="j" cx="823.4" cy="1301.0"/><ellipse class="j" cx="824.8" cy="1263.5"/><ellipse class="j" cx="785.7" cy="1239.6"/><ellipse class="j" cx="817.4" cy="1242.9"/><ellipse class="j" cx="764.3" cy="1297.2"/><ellipse class="j" cx="792.6" cy="1232.4"/><ellipse class="j" cx="773.0" cy="1263.5"/><ellipse class="j" cx="780.9" cy="1138.8"/><ellipse class="j" cx="773.1" cy="1294.8"/><ellipse class="j" cx="807.4" cy="1294.8"/><ellipse class="j" cx="759.8" cy="1201.3"/><ellipse class="j" cx="808.0" cy="1251.1"/><ellipse class="j" cx="813.5" cy="1263.5"/><ellipse class="j" cx="814.9" cy="1138.8"/><ellipse class="j" cx="823.6" cy="1290.3"/><ellipse class="j" cx="823.8" cy="1279.2"/><ellipse class="j" cx="811.7" cy="1201.3"/><ellipse class="j" cx="823.6" cy="1251.1"/><ellipse class="j" cx="761.9" cy="951.5"/><ellipse class="j" cx="789.7" cy="1286.6"/><ellipse class="j" cx="827.9" cy="1076.2"/><ellipse class="j" cx="768.8" cy="1263.5"/><ellipse class="j" cx="760.9" cy="1138.8"/><ellipse class="j" cx="788.9" cy="1268.4"/><ellipse class="j" cx="798.3" cy="1299.3"/><ellipse class="j" cx="807.9" cy="1014.0"/><ellipse class="j" cx="780.0" cy="1251.1"/><ellipse class="j" cx="796.5" cy="1232.4"/><ellipse class="j" cx="823.5" cy="1263.5"/><ellipse class="j" cx="784.8" cy="1299.3"/><ellipse class="j" cx="762.9" cy="1201.3"/><ellipse class="j" cx="791.4" cy="1245.7"/><ellipse class="j" cx="782.5" cy="1286.6"/><ellipse class="j" cx="824.4" cy="1268.4"/><ellipse class="j" cx="815.0" cy="1290.3"/><ellipse class="j" cx="756.0" cy="1263.5"/><ellipse class="j" cx="816.0" cy="1257.8"/><ellipse class="j" cx="812.4" cy="1263.5"/><ellipse class="j" cx="818.9" cy="1169.8"/><ellipse class="j" cx="813.6" cy="1232.4"/><ellipse class="j" cx="785.3" cy="1232.4"/><ellipse class="j" cx="811.8" cy="1294.8"/><ellipse class="j" cx="771.4" cy="1288.5"/><ellipse class="j" cx="775.9" cy="1138.8"/><ellipse class="j" cx="806.8" cy="1263.5"/><ellipse class="j" cx="758.2" cy="1201.3"/><ellipse class="j" cx="805.3" cy="1201.3"/><ellipse class="j" cx="800.0" cy="1299.3"/><ellipse class="j" cx="824.5" cy="1276.1"/><ellipse class="j" cx="799.8" cy="1292.0"/><ellipse class="j" cx="814.5" cy="1226.1"/><ellipse class="j" cx="755.9" cy="1185.6"/><ellipse class="j" cx="803.7" cy="1290.3"/><ellipse class="j" cx="826.5" cy="1251.1"/><ellipse class="j" cx="773.7" cy="1284.4"/><ellipse class="j" cx="770.9" cy="1251.1"/><ellipse class="j" cx="784.5" cy="1268.4"/><ellipse class="j" cx="788.1" cy="1263.5"/><ellipse class="j" cx="801.1" cy="1263.5"/><ellipse class="j" cx="763.9" cy="1138.8"/><ellipse class="j" cx="768.1" cy="1263.5"/><ellipse class="j" cx="759.4" cy="1288.5"/><ellipse class="j" cx="778.1" cy="1288.5"/><ellipse class="j" cx="754.9" cy="1076.2"/><ellipse class="j" cx="756.0" cy="1302.6"/><ellipse class="j" cx="807.4" cy="1263.5"/><ellipse class="j" cx="782.5" cy="1201.3"/><ellipse class="j" cx="757.9" cy="1138.8"/><ellipse class="j" cx="801.2" cy="1201.3"/><ellipse class="j" cx="776.7" cy="1232.4"/><ellipse class="j" cx="776.2" cy="1251.1"/><ellipse class="j" cx="792.7" cy="1268.4"/><ellipse class="j" cx="764.7" cy="1276.1"/><ellipse class="j" cx="814.4" cy="1245.7"/><ellipse class="j" cx="762.9" cy="1176.2"/><ellipse class="j" cx="757.9" cy="1150.0"/><ellipse class="j" cx="818.6" cy="1251.1"/><ellipse class="j" cx="775.6" cy="1218.9"/><ellipse class="j" cx="826.9" cy="1138.8"/><ellipse class="j" cx="811.9" cy="1263.5"/><ellipse class="j" cx="815.9" cy="1259.9"/><ellipse class="j" cx="796.7" cy="1242.9"/><ellipse class="j" cx="769.3" cy="1259.9"/><ellipse class="j" cx="811.9" cy="1290.3"/><ellipse class="j" cx="777.5" cy="1288.5"/><ellipse class="j" cx="764.4" cy="1268.4"/><ellipse class="j" cx="793.9" cy="1138.8"/><ellipse class="j" cx="781.4" cy="1292.0"/><ellipse class="j" cx="826.6" cy="1272.5"/><ellipse class="j" cx="766.9" cy="1138.8"/><ellipse class="j" cx="816.4" cy="1251.1"/><ellipse class="j" cx="782.4" cy="1290.3"/><ellipse class="j" cx="824.4" cy="1282.0"/><ellipse class="j" cx="759.6" cy="1297.2"/><ellipse class="j" cx="764.0" cy="1242.9"/><ellipse class="j" cx="825.1" cy="1251.1"/><ellipse class="j" cx="786.5" cy="1297.2"/><ellipse class="j" cx="772.3" cy="1251.1"/><ellipse class="j" cx="797.2" cy="1251.1"/><ellipse class="j" cx="822.3" cy="1299.3"/><ellipse class="j" cx="818.8" cy="1297.2"/><ellipse class="j" cx="806.1" cy="1201.3"/><ellipse class="j" cx="794.7" cy="1242.9"/><ellipse class="j" cx="815.4" cy="1276.1"/><ellipse class="j" cx="804.4" cy="1284.4"/><ellipse class="j" cx="789.4" cy="1290.3"/><ellipse class="j" cx="809.0" cy="1209.0"/><ellipse class="j" cx="766.8" cy="1232.4"/><ellipse class="j" cx="800.7" cy="1299.3"/><ellipse class="j" cx="825.6" cy="1279.2"/><ellipse class="j" cx="760.9" cy="1290.3"/><ellipse class="j" cx="823.9" cy="1165.0"/><ellipse class="j" cx="795.3" cy="1268.4"/><ellipse class="j" cx="768.9" cy="1185.6"/><ellipse class="j" cx="766.8" cy="1288.5"/><ellipse class="j" cx="795.6" cy="1201.3"/><ellipse class="j" cx="801.4" cy="1213.7"/><ellipse class="j" cx="780.9" cy="1288.5"/><ellipse class="j" cx="808.4" cy="1282.0"/><ellipse class="j" cx="821.6" cy="1268.4"/><ellipse class="j" cx="772.9" cy="1138.8"/><ellipse class="j" cx="767.9" cy="1255.8"/><ellipse class="j" cx="821.7" cy="1268.4"/><ellipse class="j" cx="774.9" cy="1268.4"/><ellipse class="j" cx="777.5" cy="1268.4"/><ellipse class="j" cx="825.2" cy="1201.3"/><ellipse class="j" cx="821.4" cy="1292.0"/><ellipse class="j" cx="773.3" cy="1268.4"/><ellipse class="j" cx="826.2" cy="1232.4"/><ellipse class="j" cx="815.0" cy="1301.0"/><ellipse class="j" cx="792.0" cy="1232.4"/><ellipse class="j" cx="773.4" cy="1301.0"/><ellipse class="j" cx="762.0" cy="1282.0"/><ellipse class="j" cx="806.2" cy="1297.2"/><ellipse class="j" cx="806.3" cy="1226.1"/><ellipse class="j" cx="758.8" cy="1232.4"/><ellipse class="j" cx="783.2" cy="1268.4"/><ellipse class="j" cx="798.9" cy="1176.2"/><ellipse class="j" cx="826.5" cy="1263.5"/><ellipse class="j" cx="794.1" cy="1239.6"/><ellipse class="j" cx="765.7" cy="1251.1"/><ellipse class="j" cx="802.8" cy="1263.5"/><ellipse class="j" cx="762.7" cy="1251.1"/><ellipse class="j" cx="802.7" cy="1268.4"/><ellipse class="j" cx="820.4" cy="1218.9"/><ellipse class="j" cx="761.3" cy="951.5"/><ellipse class="j" cx="770.0" cy="1268.4"/><ellipse class="j" cx="771.7" cy="1201.3"/><ellipse class="j" cx="771.8" cy="1288.5"/><ellipse class="j" cx="800.9" cy="1185.6"/><ellipse class="j" cx="820.1" cy="1286.6"/><ellipse class="j" cx="796.6" cy="1263.5"/><ellipse class="j" cx="791.4" cy="951.5"/><ellipse class="j" cx="778.9" cy="1138.8"/><ellipse class="j" cx="782.8" cy="1282.0"/><ellipse class="j" cx="802.4" cy="1112.2"/><ellipse class="j" cx="826.1" cy="1290.3"/><ellipse class="j" cx="824.1" cy="1263.5"/><ellipse class="j" cx="799.2" cy="1284.4"/><ellipse class="j" cx="773.6" cy="1255.8"/><ellipse class="j" cx="755.8" cy="1251.1"/><ellipse class="j" cx="764.8" cy="1201.3"/><ellipse class="j" cx="766.1" cy="1257.8"/><ellipse class="j" cx="755.6" cy="1257.8"/><ellipse class="j" cx="774.6" cy="1251.1"/><ellipse class="j" cx="808.8" cy="1268.4"/><ellipse class="j" cx="766.5" cy="1201.3"/><ellipse class="j" cx="798.2" cy="1284.4"/><ellipse class="j" cx="809.1" cy="1268.4"/><ellipse class="j" cx="757.9" cy="1201.3"/><ellipse class="j" cx="764.1" cy="1058.6"/><ellipse class="j" cx="799.7" cy="1201.3"/><ellipse class="j" cx="807.6" cy="1284.4"/><ellipse class="j" cx="815.4" cy="1282.0"/><ellipse class="j" cx="778.4" cy="1297.2"/><ellipse class="j" cx="772.7" cy="1282.0"/><ellipse class="j" cx="823.7" cy="1251.1"/><ellipse class="j" cx="790.1" cy="1284.4"/><ellipse class="j" cx="762.4" cy="1268.4"/><ellipse class="j" cx="812.8" cy="1272.5"/><ellipse class="j" cx="784.9" cy="1185.6"/><ellipse class="j" cx="778.9" cy="1176.2"/><ellipse class="j" cx="810.6" cy="1272.5"/><ellipse class="j" cx="801.1" cy="1242.9"/><ellipse class="j" cx="769.5" cy="1286.6"/><ellipse class="j" cx="784.1" cy="1272.5"/><ellipse class="j" cx="756.9" cy="1076.2"/><ellipse class="j" cx="804.3" cy="951.5"/><ellipse class="j" cx="766.7" cy="1251.1"/><ellipse class="j" cx="778.2" cy="1242.9"/><ellipse class="j" cx="791.6" cy="1286.6"/><ellipse class="j" cx="773.9" cy="1301.0"/><ellipse class="j" cx="781.9" cy="1138.8"/><ellipse class="j" cx="788.6" cy="1223.8"/><ellipse class="j" cx="782.7" cy="1294.8"/><ellipse class="j" cx="816.0" cy="1272.5"/><ellipse class="j" cx="757.3" cy="1242.9"/><ellipse class="j" cx="786.3" cy="1251.1"/><ellipse class="j" cx="819.4" cy="1268.4"/><ellipse class="j" cx="773.7" cy="1218.9"/><ellipse class="j" cx="795.6" cy="1226.1"/><ellipse class="j" cx="802.9" cy="1138.8"/><ellipse class="j" cx="794.3" cy="1286.6"/><ellipse class="j" cx="760.4" cy="1297.2"/><ellipse class="j" cx="775.6" cy="1232.4"/><ellipse class="j" cx="818.2" cy="1201.3"/><ellipse class="j" cx="761.8" cy="1232.4"/><ellipse class="j" cx="797.5" cy="1232.4"/><ellipse class="j" cx="796.2" cy="1232.4"/><ellipse class="j" cx="811.9" cy="1213.7"/><ellipse class="j" cx="779.6" cy="1288.5"/><ellipse class="j" cx="761.2" cy="1209.0"/><ellipse class="j" cx="808.0" cy="1292.0"/><ellipse class="j" cx="820.5" cy="1201.3"/><ellipse class="j" cx="805.1" cy="1272.5"/><ellipse class="j" cx="817.9" cy="1138.8"/><ellipse class="j" cx="805.0" cy="1242.9"/><ellipse class="j" cx="801.2" cy="1279.2"/><ellipse class="j" cx="757.1" cy="1218.9"/><ellipse class="j" cx="792.4" cy="1242.9"/><ellipse class="j" cx="757.3" cy="1201.3"/><ellipse class="j" cx="786.0" cy="1282.0"/><ellipse class="j" cx="802.2" cy="1251.1"/><ellipse class="j" cx="792.5" cy="1299.3"/><ellipse class="j" cx="806.8" cy="1276.1"/><ellipse class="j" cx="786.0" cy="1282.0"/><ellipse class="j" cx="818.7" cy="1294.8"/><ellipse class="j" cx="792.2" cy="1257.8"/><ellipse class="j" cx="783.7" cy="1257.8"/><ellipse class="j" cx="806.4" cy="1272.5"/><ellipse class="j" cx="757.1" cy="1201.3"/><ellipse class="j" cx="823.7" cy="1290.3"/><ellipse class="j" cx="794.5" cy="1284.4"/><ellipse class="j" cx="771.3" cy="1255.8"/><ellipse class="j" cx="787.8" cy="1263.5"/><ellipse class="j" cx="762.4" cy="1232.4"/><ellipse class="j" cx="813.6" cy="1279.2"/><ellipse class="j" cx="771.6" cy="1282.0"/><ellipse class="j" cx="778.9" cy="1242.9"/><ellipse class="j" cx="755.8" cy="1284.4"/><ellipse class="j" cx="780.1" cy="1218.9"/><ellipse class="j" cx="823.9" cy="1138.8"/><ellipse class="j" cx="774.7" cy="1276.1"/><ellipse class="j" cx="794.7" cy="1288.5"/><ellipse class="j" cx="822.5" cy="1232.4"/><ellipse class="j" cx="775.1" cy="1297.2"/><ellipse class="j" cx="806.8" cy="1272.5"/><ellipse class="j" cx="798.1" cy="1297.2"/><ellipse class="j" cx="755.0" cy="1272.5"/><ellipse class="j" cx="774.1" cy="1245.7"/><ellipse class="j" cx="769.6" cy="1259.9"/><ellipse class="j" cx="811.7" cy="1218.9"/><ellipse class="j" cx="822.8" cy="1286.6"/><ellipse class="j" cx="813.5" cy="1297.2"/><ellipse class="j" cx="804.9" cy="1181.8"/><ellipse class="j" cx="801.5" cy="1251.1"/><ellipse class="j" cx="781.0" cy="1284.4"/><ellipse class="j" cx="820.5" cy="1299.3"/><ellipse class="j" cx="821.8" cy="1297.2"/><ellipse class="j" cx="815.2" cy="1282.0"/><ellipse class="j" cx="762.9" cy="1076.2"/><ellipse class="j" cx="779.6" cy="1263.5"/><ellipse class="j" cx="801.9" cy="1286.6"/><ellipse class="j" cx="771.9" cy="1284.4"/><ellipse class="j" cx="814.1" cy="1294.8"/><ellipse class="j" cx="810.9" cy="1189.7"/><ellipse class="j" cx="805.3" cy="1279.2"/><ellipse class="j" cx="782.4" cy="1263.5"/><ellipse class="j" cx="816.9" cy="1185.6"/><ellipse class="j" cx="760.8" cy="1282.0"/><ellipse class="j" cx="798.0" cy="1294.8"/><ellipse class="j" cx="823.7" cy="1294.8"/><ellipse class="j" cx="811.7" cy="1290.3"/><ellipse class="j" cx="815.3" cy="1282.0"/><ellipse class="j" cx="816.7" cy="1257.8"/><ellipse class="j" cx="820.9" cy="1153.7"/><ellipse class="j" cx="783.1" cy="1201.3"/><ellipse class="j" cx="803.8" cy="1282.0"/><ellipse class="j" cx="804.5" cy="1242.9"/><ellipse class="j" cx="757.3" cy="1279.2"/><ellipse class="j" cx="765.0" cy="1292.0"/><ellipse class="j" cx="819.8" cy="1290.3"/><ellipse class="j" cx="792.2" cy="1223.8"/><ellipse class="j" cx="755.3" cy="1251.1"/><ellipse class="j" cx="769.2" cy="1286.6"/><ellipse class="j" cx="799.5" cy="1279.2"/><ellipse class="j" cx="760.7" cy="1294.8"/><ellipse class="j" cx="776.3" cy="1251.1"/><ellipse class="j" cx="769.9" cy="1138.8"/><ellipse class="j" cx="773.9" cy="1288.5"/><ellipse class="j" cx="781.9" cy="1076.2"/><ellipse class="j" cx="806.9" cy="1165.0"/><ellipse class="j" cx="807.9" cy="1076.2"/><ellipse class="j" cx="772.8" cy="1288.5"/><ellipse class="j" cx="761.9" cy="1223.8"/><ellipse class="j" cx="805.9" cy="1288.5"/><ellipse class="j" cx="808.9" cy="1272.5"/><ellipse class="j" cx="819.2" cy="1276.1"/><ellipse class="j" cx="795.3" cy="1232.4"/><ellipse class="j" cx="780.6" cy="1268.4"/><ellipse class="j" cx="776.5" cy="1282.0"/><ellipse class="j" cx="820.5" cy="1251.1"/><ellipse class="j" cx="764.9" cy="1181.8"/><ellipse class="j" cx="825.6" cy="1239.6"/><ellipse class="j" cx="762.5" cy="1257.8"/><ellipse class="j" cx="793.3" cy="1201.3"/><ellipse class="j" cx="776.7" cy="1263.5"/><ellipse class="j" cx="775.9" cy="1189.7"/><ellipse class="j" cx="758.9" cy="1169.8"/><ellipse class="j" cx="792.8" cy="1286.6"/><ellipse class="j" cx="805.8" cy="1268.4"/><ellipse class="j" cx="818.0" cy="1302.6"/><ellipse class="j" cx="783.7" cy="1263.5"/><ellipse class="j" cx="824.5" cy="1276.1"/><ellipse class="j" cx="760.3" cy="1263.5"/><ellipse class="j" cx="755.5" cy="1299.3"/><ellipse class="j" cx="770.6" cy="1259.9"/><ellipse class="j" cx="791.9" cy="1263.5"/><ellipse class="j" cx="779.6" cy="1290.3"/><ellipse class="j" cx="820.8" cy="1263.5"/><ellipse class="j" cx="787.8" cy="1259.9"/><ellipse class="j" cx="797.8" cy="1276.1"/><ellipse class="j" cx="808.9" cy="1138.8"/><ellipse class="j" cx="775.1" cy="1251.1"/><ellipse class="j" cx="792.5" cy="1268.4"/><ellipse class="j" cx="770.2" cy="1290.3"/><ellipse class="j" cx="770.9" cy="1268.4"/><ellipse class="j" cx="801.8" cy="1251.1"/><ellipse class="j" cx="820.1" cy="1288.5"/><ellipse class="j" cx="759.9" cy="1150.0"/><ellipse class="j" cx="819.3" cy="1276.1"/><ellipse class="j" cx="803.5" cy="1263.5"/><ellipse class="j" cx="795.6" cy="1299.3"/><ellipse class="j" cx="802.7" cy="1201.3"/><ellipse class="j" cx="824.6" cy="1272.5"/><ellipse class="j" cx="787.2" cy="1272.5"/><ellipse class="j" cx="801.5" cy="1112.2"/><ellipse class="j" cx="798.3" cy="1251.1"/><ellipse class="j" cx="788.9" cy="1276.1"/><ellipse class="j" cx="760.9" cy="1159.7"/><ellipse class="j" cx="814.3" cy="1232.4"/><ellipse class="j" cx="806.2" cy="1257.8"/><ellipse class="j" cx="820.9" cy="1176.2"/><ellipse class="j" cx="776.2" cy="1302.6"/><ellipse class="j" cx="790.4" cy="1272.5"/><ellipse class="j" cx="809.9" cy="1279.2"/><ellipse class="j" cx="756.7" cy="1286.6"/><ellipse class="j" cx="809.7" cy="1201.3"/><ellipse class="j" cx="801.3" cy="1299.3"/><ellipse class="j" cx="785.9" cy="1292.0"/><ellipse class="j" cx="824.8" cy="1282.0"/><ellipse class="j" cx="770.6" cy="1268.4"/><ellipse class="j" cx="804.9" cy="1232.4"/><ellipse class="j" cx="812.9" cy="1076.2"/><ellipse class="j" cx="756.6" cy="1301.0"/><ellipse class="j" cx="789.1" cy="1218.9"/><ellipse class="j" cx="762.9" cy="1138.8"/><ellipse class="j" cx="802.9" cy="1159.7"/><ellipse class="j" cx="787.3" cy="1282.0"/><ellipse class="j" cx="787.3" cy="1242.9"/><ellipse class="j" cx="769.5" cy="1201.3"/><ellipse class="j" cx="767.3" cy="1279.2"/><ellipse class="j" cx="778.4" cy="1232.4"/><ellipse class="j" cx="774.9" cy="1288.5"/><ellipse class="j" cx="756.5" cy="1251.1"/><ellipse class="j" cx="822.0" cy="1263.5"/><ellipse class="j" cx="808.3" cy="1263.5"/><ellipse class="j" cx="809.6" cy="1218.9"/><ellipse class="j" cx="772.6" cy="1201.3"/><ellipse class="j" cx="761.8" cy="1288.5"/><ellipse class="j" cx="810.1" cy="1232.4"/><ellipse class="j" cx="757.2" cy="1201.3"/><ellipse class="j" cx="787.1" cy="1268.4"/><ellipse class="j" cx="826.2" cy="1263.5"/><ellipse class="j" cx="765.1" cy="1286.6"/><ellipse class="j" cx="825.5" cy="1251.1"/><ellipse class="j" cx="792.2" cy="1290.3"/><ellipse class="j" cx="822.8" cy="1239.6"/><ellipse class="j" cx="808.4" cy="1272.5"/><ellipse class="j" cx="816.5" cy="1282.0"/><ellipse class="j" cx="771.5" cy="1232.4"/><ellipse class="j" cx="823.4" cy="1259.9"/><ellipse class="j" cx="786.7" cy="1292.0"/><ellipse class="j" cx="787.9" cy="1138.8"/><ellipse class="j" cx="769.2" cy="1201.3"/><ellipse class="j" cx="806.4" cy="1259.9"/><ellipse class="j" cx="765.5" cy="1251.1"/></g><rect x="748.4" y="1320.0" width="85.0" height="12" rx="7" ry="6" fill="#C49A00"/></g>
<g><rect x="901.9" y="1270.9" width="73.6" height="55.1" fill="#53B400" fill-opacity="0.35" stroke="none"/><path d="M938.7 1270.9V1190.1" stroke="#000" stroke-width="5.4" fill="none"/><rect x="901.9" y="1270.9" width="73.6" height="55.1" fill="none" stroke="#000" stroke-width="4.8" stroke-linejoin="round"/><path d="M901.9 1326.0H975.5" stroke="#000" stroke-width="8.8" fill="none"/><g fill="#000" fill-opacity="0.33"><ellipse class="o" cx="938.7" cy="951.5"/><ellipse class="o" cx="938.7" cy="1101.3"/><ellipse class="o" cx="938.7" cy="1101.3"/><ellipse class="o" cx="938.7" cy="1138.8"/><ellipse class="o" cx="938.7" cy="1138.8"/><ellipse class="o" cx="938.7" cy="1138.8"/><ellipse class="o" cx="938.7" cy="1138.8"/><ellipse class="o" cx="938.7" cy="1138.8"/><ellipse class="o" cx="938.7" cy="1165.3"/><ellipse class="o" cx="938.7" cy="1165.3"/><ellipse class="o" cx="938.7" cy="1165.3"/><ellipse class="o" cx="938.7" cy="1176.2"/></g><g fill="#53B400" fill-opacity="0.25"><ellipse class="j" cx="930.3" cy="1286.6"/><ellipse class="j" cx="929.3" cy="1101.3"/><ellipse class="j" cx="931.4" cy="1288.5"/><ellipse class="j" cx="913.8" cy="1263.5"/><ellipse class="j" cx="966.9" cy="1251.1"/><ellipse class="j" cx="920.2" cy="1294.8"/><ellipse class="j" cx="949.4" cy="1284.4"/><ellipse class="j" cx="933.9" cy="1292.0"/><ellipse class="j" cx="944.2" cy="1282.0"/><ellipse class="j" cx="942.8" cy="1292.0"/><ellipse class="j" cx="963.8" cy="1290.3"/><ellipse class="j" cx="972.7" cy="1251.1"/><ellipse class="j" cx="904.7" cy="1213.7"/><ellipse class="j" cx="927.8" cy="1294.8"/><ellipse class="j" cx="971.7" cy="1201.3"/><ellipse class="j" cx="959.3" cy="1294.8"/><ellipse class="j" cx="946.5" cy="1242.9"/><ellipse class="j" cx="947.4" cy="1251.1"/><ellipse class="j" cx="941.8" cy="1282.0"/><ellipse class="j" cx="958.7" cy="1201.3"/><ellipse class="j" cx="909.4" cy="1268.4"/><ellipse class="j" cx="931.7" cy="1263.5"/><ellipse class="j" cx="941.2" cy="1185.6"/><ellipse class="j" cx="925.2" cy="1251.1"/><ellipse class="j" cx="967.5" cy="1263.5"/><ellipse class="j" cx="910.1" cy="1279.2"/><ellipse class="j" cx="958.0" cy="1263.5"/><ellipse class="j" cx="933.1" cy="1263.5"/><ellipse class="j" cx="956.8" cy="951.5"/><ellipse class="j" cx="929.1" cy="1268.4"/><ellipse class="j" cx="929.9" cy="1242.9"/><ellipse class="j" cx="962.2" cy="1251.1"/><ellipse class="j" cx="935.7" cy="1279.2"/><ellipse class="j" cx="966.7" cy="1218.9"/><ellipse class="j" cx="967.2" cy="1251.1"/><ellipse class="j" cx="934.2" cy="1251.1"/><ellipse class="j" cx="955.1" cy="1251.1"/><ellipse class="j" cx="969.6" cy="1263.5"/><ellipse class="j" cx="971.0" cy="1290.3"/><ellipse class="j" cx="953.0" cy="1101.3"/><ellipse class="j" cx="952.5" cy="1268.4"/><ellipse class="j" cx="974.7" cy="1176.2"/><ellipse class="j" cx="946.5" cy="1284.4"/><ellipse class="j" cx="956.0" cy="1279.2"/><ellipse class="j" cx="970.0" cy="1279.2"/><ellipse class="j" cx="928.2" cy="1294.8"/><ellipse class="j" cx="929.7" cy="1201.3"/><ellipse class="j" cx="941.4" cy="1276.1"/><ellipse class="j" cx="930.1" cy="1279.2"/><ellipse class="j" cx="945.0" cy="1268.4"/><ellipse class="j" cx="938.8" cy="1263.5"/><ellipse class="j" cx="952.7" cy="1232.4"/><ellipse class="j" cx="972.7" cy="1232.4"/><ellipse class="j" cx="912.2" cy="1176.2"/><ellipse class="j" cx="960.7" cy="1232.4"/><ellipse class="j" cx="958.7" cy="1302.6"/><ellipse class="j" cx="909.7" cy="1302.6"/><ellipse class="j" cx="905.2" cy="1302.6"/><ellipse class="j" cx="919.2" cy="1257.8"/><ellipse class="j" cx="912.8" cy="1282.0"/><ellipse class="j" cx="921.2" cy="1251.1"/><ellipse class="j" cx="971.8" cy="1284.4"/><ellipse class="j" cx="967.7" cy="1201.3"/><ellipse class="j" cx="954.7" cy="1201.3"/><ellipse class="j" cx="969.1" cy="1279.2"/><ellipse class="j" cx="929.0" cy="1302.6"/><ellipse class="j" cx="964.7" cy="1218.9"/><ellipse class="j" cx="968.8" cy="1294.8"/><ellipse class="j" cx="928.2" cy="1288.5"/><ellipse class="j" cx="918.7" cy="1201.3"/><ellipse class="j" cx="926.7" cy="1232.4"/><ellipse class="j" cx="950.9" cy="1299.3"/><ellipse class="j" cx="905.7" cy="1138.8"/><ellipse class="j" cx="971.6" cy="1251.1"/><ellipse class="j" cx="920.2" cy="1242.9"/><ellipse class="j" cx="932.7" cy="1138.8"/><ellipse class="j" cx="905.7" cy="1257.8"/><ellipse class="j" cx="934.7" cy="1232.4"/><ellipse class="j" cx="942.4" cy="1299.3"/><ellipse class="j" cx="945.6" cy="1284.4"/><ellipse class="j" cx="951.4" cy="1257.8"/><ellipse class="j" cx="942.7" cy="1213.7"/><ellipse class="j" cx="956.7" cy="1232.4"/><ellipse class="j" cx="972.5" cy="1286.6"/><ellipse class="j" cx="962.7" cy="1201.3"/><ellipse class="j" cx="942.2" cy="1290.3"/><ellipse class="j" cx="974.7" cy="1232.4"/><ellipse class="j" cx="934.4" cy="1292.0"/><ellipse class="j" cx="952.7" cy="1282.0"/><ellipse class="j" cx="906.7" cy="1165.3"/><ellipse class="j" cx="958.8" cy="1292.0"/><ellipse class="j" cx="916.3" cy="1263.5"/><ellipse class="j" cx="928.9" cy="1268.4"/><ellipse class="j" cx="972.5" cy="1242.9"/><ellipse class="j" cx="912.8" cy="1297.2"/><ellipse class="j" cx="905.4" cy="1292.0"/><ellipse class="j" cx="956.5" cy="1268.4"/><ellipse class="j" cx="974.6" cy="1276.1"/><ellipse class="j" cx="911.7" cy="1288.5"/><ellipse class="j" cx="971.7" cy="1286.6"/><ellipse class="j" cx="941.4" cy="1251.1"/><ellipse class="j" cx="909.7" cy="1138.8"/><ellipse class="j" cx="919.8" cy="1290.3"/><ellipse class="j" cx="918.7" cy="1232.4"/><ellipse class="j" cx="936.2" cy="1257.8"/><ellipse class="j" cx="948.7" cy="1232.4"/><ellipse class="j" cx="908.7" cy="1201.3"/><ellipse class="j" cx="926.2" cy="1251.1"/><ellipse class="j" cx="908.7" cy="1165.3"/><ellipse class="j" cx="903.5" cy="1257.8"/><ellipse class="j" cx="907.7" cy="1257.8"/><ellipse class="j" cx="924.0" cy="1294.8"/><ellipse class="j" cx="914.7" cy="1201.3"/><ellipse class="j" cx="919.0" cy="1286.6"/><ellipse class="j" cx="917.7" cy="1138.8"/><ellipse class="j" cx="961.9" cy="1284.4"/><ellipse class="j" cx="902.7" cy="1138.8"/><ellipse class="j" cx="945.4" cy="1286.6"/><ellipse class="j" cx="956.8" cy="1284.4"/><ellipse class="j" cx="947.3" cy="1297.2"/><ellipse class="j" cx="927.7" cy="1165.3"/><ellipse class="j" cx="942.7" cy="1294.8"/><ellipse class="j" cx="911.9" cy="1279.2"/><ellipse class="j" cx="933.7" cy="1257.8"/><ellipse class="j" cx="932.3" cy="1302.6"/><ellipse class="j" cx="911.5" cy="1301.0"/><ellipse class="j" cx="915.6" cy="1279.2"/><ellipse class="j" cx="965.4" cy="1297.2"/><ellipse class="j" cx="950.7" cy="1201.3"/><ellipse class="j" cx="922.7" cy="1232.4"/><ellipse class="j" cx="973.3" cy="1276.1"/><ellipse class="j" cx="932.8" cy="1299.3"/><ellipse class="j" cx="913.7" cy="1138.8"/><ellipse class="j" cx="968.7" cy="1232.4"/><ellipse class="j" cx="946.9" cy="1286.6"/><ellipse class="j" cx="920.4" cy="1279.2"/><ellipse class="j" cx="916.1" cy="1297.2"/><ellipse class="j" cx="905.3" cy="1284.4"/><ellipse class="j" cx="935.4" cy="1257.8"/><ellipse class="j" cx="919.4" cy="1242.9"/><ellipse class="j" cx="909.2" cy="1288.5"/><ellipse class="j" cx="911.7" cy="1201.3"/><ellipse class="j" cx="961.9" cy="1242.9"/><ellipse class="j" cx="923.0" cy="1292.0"/><ellipse class="j" cx="912.3" cy="1276.1"/><ellipse class="j" cx="974.7" cy="1201.3"/><ellipse class="j" cx="938.4" cy="1279.2"/><ellipse class="j" cx="926.7" cy="1201.3"/><ellipse class="j" cx="924.3" cy="1251.1"/><ellipse class="j" cx="954.3" cy="1292.0"/><ellipse class="j" cx="922.7" cy="1201.3"/><ellipse class="j" cx="921.6" cy="1297.2"/><ellipse class="j" cx="944.3" cy="1290.3"/><ellipse class="j" cx="932.2" cy="1263.5"/><ellipse class="j" cx="952.8" cy="1284.4"/><ellipse class="j" cx="921.7" cy="1138.8"/><ellipse class="j" cx="914.4" cy="1292.0"/><ellipse class="j" cx="944.7" cy="1232.4"/><ellipse class="j" cx="960.6" cy="1286.6"/><ellipse class="j" cx="907.7" cy="1165.3"/><ellipse class="j" cx="910.0" cy="1284.4"/><ellipse class="j" cx="930.7" cy="1232.4"/><ellipse class="j" cx="949.4" cy="1263.5"/><ellipse class="j" cx="925.7" cy="1138.8"/><ellipse class="j" cx="904.6" cy="1251.1"/><ellipse class="j" cx="934.1" cy="1242.9"/><ellipse class="j" cx="960.7" cy="1284.4"/><ellipse class="j" cx="908.8" cy="1294.8"/><ellipse class="j" cx="929.7" cy="1138.8"/><ellipse class="j" cx="926.5" cy="1242.9"/><ellipse class="j" cx="944.9" cy="1288.5"/></g><rect x="896.2" y="1320.0" width="85.0" height="12" rx="7" ry="6" fill="#53B400"/></g>
<g><rect x="1049.8" y="1259.3" width="73.6" height="66.7" fill="#00C094" fill-opacity="0.35" stroke="none"/><path d="M1086.6 1259.3V1159.0" stroke="#000" stroke-width="5.4" fill="none"/><rect x="1049.8" y="1259.3" width="73.6" height="66.7" fill="none" stroke="#000" stroke-width="4.8" stroke-linejoin="round"/><path d="M1049.8 1326.0H1123.4" stroke="#000" stroke-width="8.8" fill="none"/><g fill="#000" fill-opacity="0.33"><ellipse class="o" cx="1086.6" cy="951.5"/><ellipse class="o" cx="1086.6" cy="1076.2"/><ellipse class="o" cx="1086.6" cy="1138.8"/></g><g fill="#00C094" fill-opacity="0.25"><ellipse class="j" cx="1108.6" cy="1201.3"/><ellipse class="j" cx="1094.6" cy="1326.0"/><ellipse class="j" cx="1107.1" cy="1201.3"/><ellipse class="j" cx="1064.6" cy="1326.0"/><ellipse class="j" cx="1061.6" cy="1326.0"/><ellipse class="j" cx="1101.6" cy="1326.0"/><ellipse class="j" cx="1053.6" cy="1326.0"/><ellipse class="j" cx="1120.6" cy="1303.5"/><ellipse class="j" cx="1110.6" cy="1326.0"/><ellipse class="j" cx="1111.3" cy="1185.6"/><ellipse class="j" cx="1074.6" cy="1299.8"/><ellipse class="j" cx="1074.6" cy="1326.0"/><ellipse class="j" cx="1089.6" cy="1326.0"/><ellipse class="j" cx="1112.4" cy="951.5"/><ellipse class="j" cx="1074.6" cy="1232.4"/><ellipse class="j" cx="1092.6" cy="1294.9"/><ellipse class="j" cx="1060.6" cy="1269.8"/><ellipse class="j" cx="1087.3" cy="1218.9"/><ellipse class="j" cx="1121.6" cy="1326.0"/><ellipse class="j" cx="1095.6" cy="1263.5"/><ellipse class="j" cx="1112.0" cy="951.5"/><ellipse class="j" cx="1053.6" cy="1251.1"/><ellipse class="j" cx="1081.6" cy="1326.0"/><ellipse class="j" cx="1091.6" cy="1251.1"/><ellipse class="j" cx="1050.6" cy="1076.2"/><ellipse class="j" cx="1112.6" cy="1326.0"/><ellipse class="j" cx="1109.6" cy="1279.2"/><ellipse class="j" cx="1054.8" cy="1138.8"/><ellipse class="j" cx="1115.6" cy="1326.0"/><ellipse class="j" cx="1094.6" cy="1294.9"/><ellipse class="j" cx="1100.0" cy="1159.7"/><ellipse class="j" cx="1092.6" cy="1326.0"/><ellipse class="j" cx="1096.6" cy="1326.0"/><ellipse class="j" cx="1119.6" cy="1326.0"/><ellipse class="j" cx="1079.6" cy="1251.1"/><ellipse class="j" cx="1057.6" cy="1326.0"/><ellipse class="j" cx="1056.6" cy="1326.0"/><ellipse class="j" cx="1108.6" cy="1326.0"/><ellipse class="j" cx="1085.6" cy="1326.0"/><ellipse class="j" cx="1072.6" cy="1326.0"/><ellipse class="j" cx="1088.6" cy="1251.1"/><ellipse class="j" cx="1115.6" cy="1201.3"/><ellipse class="j" cx="1072.6" cy="1294.9"/><ellipse class="j" cx="1077.6" cy="1251.1"/><ellipse class="j" cx="1105.6" cy="1326.0"/><ellipse class="j" cx="1050.6" cy="1326.0"/><ellipse class="j" cx="1050.6" cy="1303.5"/><ellipse class="j" cx="1098.6" cy="1263.5"/><ellipse class="j" cx="1066.6" cy="1326.0"/><ellipse class="j" cx="1069.6" cy="1326.0"/><ellipse class="j" cx="1078.6" cy="1326.0"/><ellipse class="j" cx="1073.6" cy="1288.5"/><ellipse class="j" cx="1075.6" cy="1288.5"/><ellipse class="j" cx="1098.6" cy="1326.0"/><ellipse class="j" cx="1056.6" cy="1251.1"/><ellipse class="j" cx="1111.6" cy="1279.2"/><ellipse class="j" cx="1059.6" cy="1288.5"/><ellipse class="j" cx="1097.2" cy="1218.9"/></g><rect x="1046.6" y="1320.2" width="80.0" height="11.6" rx="6.7" ry="5.8" fill="#00C094" fill-opacity="0.45"/></g>
<g><rect x="1197.7" y="1242.9" width="73.6" height="83.1" fill="#00B6EB" fill-opacity="0.35" stroke="none"/><path d="M1234.5 1242.9V1138.8" stroke="#000" stroke-width="5.4" fill="none"/><rect x="1197.7" y="1242.9" width="73.6" height="83.1" fill="none" stroke="#000" stroke-width="4.8" stroke-linejoin="round"/><path d="M1197.7 1288.5H1271.3" stroke="#000" stroke-width="8.8" fill="none"/><g fill="#000" fill-opacity="0.33"><ellipse class="o" cx="1234.5" cy="951.5"/><ellipse class="o" cx="1234.5" cy="1076.2"/><ellipse class="o" cx="1234.5" cy="1076.2"/><ellipse class="o" cx="1234.5" cy="1101.3"/><ellipse class="o" cx="1234.5" cy="1101.3"/><ellipse class="o" cx="1234.5" cy="1101.3"/><ellipse class="o" cx="1234.5" cy="1112.2"/></g><g fill="#00B6EB" fill-opacity="0.25"><ellipse class="j" cx="1201.8" cy="1276.1"/><ellipse class="j" cx="1257.9" cy="1308.2"/><ellipse class="j" cx="1246.5" cy="1138.8"/><ellipse class="j" cx="1216.8" cy="1299.3"/><ellipse class="j" cx="1244.1" cy="1263.5"/><ellipse class="j" cx="1212.2" cy="1282.0"/><ellipse class="j" cx="1260.5" cy="1232.4"/><ellipse class="j" cx="1208.5" cy="1189.7"/><ellipse class="j" cx="1209.3" cy="1242.9"/><ellipse class="j" cx="1224.6" cy="1263.5"/><ellipse class="j" cx="1203.9" cy="1251.1"/><ellipse class="j" cx="1242.5" cy="1251.1"/><ellipse class="j" cx="1206.5" cy="1201.3"/><ellipse class="j" cx="1229.1" cy="1276.1"/><ellipse class="j" cx="1212.5" cy="1201.3"/><ellipse class="j" cx="1272.5" cy="1218.9"/><ellipse class="j" cx="1258.5" cy="1185.6"/><ellipse class="j" cx="1234.6" cy="1242.9"/><ellipse class="j" cx="1234.5" cy="1076.2"/><ellipse class="j" cx="1208.5" cy="1201.3"/><ellipse class="j" cx="1248.5" cy="1232.4"/><ellipse class="j" cx="1226.4" cy="1251.1"/><ellipse class="j" cx="1198.5" cy="1201.3"/><ellipse class="j" cx="1235.6" cy="1299.3"/><ellipse class="j" cx="1199.5" cy="1242.9"/><ellipse class="j" cx="1253.3" cy="1282.0"/><ellipse class="j" cx="1220.5" cy="1201.3"/><ellipse class="j" cx="1214.8" cy="1306.3"/><ellipse class="j" cx="1209.9" cy="1245.7"/><ellipse class="j" cx="1264.7" cy="1290.3"/><ellipse class="j" cx="1198.9" cy="1251.1"/><ellipse class="j" cx="1222.5" cy="1257.8"/><ellipse class="j" cx="1224.2" cy="1302.6"/><ellipse class="j" cx="1201.6" cy="1282.0"/><ellipse class="j" cx="1221.5" cy="1290.3"/><ellipse class="j" cx="1241.6" cy="1304.0"/><ellipse class="j" cx="1208.1" cy="1290.3"/><ellipse class="j" cx="1270.5" cy="1218.9"/><ellipse class="j" cx="1211.0" cy="1276.1"/><ellipse class="j" cx="1204.9" cy="1284.4"/><ellipse class="j" cx="1262.8" cy="1251.1"/><ellipse class="j" cx="1239.1" cy="1294.8"/><ellipse class="j" cx="1205.8" cy="1302.6"/><ellipse class="j" cx="1228.5" cy="1232.4"/><ellipse class="j" cx="1217.2" cy="1276.1"/><ellipse class="j" cx="1214.5" cy="1201.3"/><ellipse class="j" cx="1249.5" cy="1138.8"/><ellipse class="j" cx="1224.1" cy="1305.2"/><ellipse class="j" cx="1246.8" cy="1257.8"/><ellipse class="j" cx="1261.5" cy="1294.8"/><ellipse class="j" cx="1261.3" cy="1251.1"/><ellipse class="j" cx="1257.5" cy="1189.7"/><ellipse class="j" cx="1200.5" cy="1138.8"/><ellipse class="j" cx="1243.5" cy="1138.8"/><ellipse class="j" cx="1210.1" cy="1268.4"/><ellipse class="j" cx="1239.5" cy="1224.9"/><ellipse class="j" cx="1230.3" cy="1272.5"/><ellipse class="j" cx="1206.7" cy="1101.3"/><ellipse class="j" cx="1218.1" cy="1257.8"/><ellipse class="j" cx="1254.2" cy="1263.5"/><ellipse class="j" cx="1224.5" cy="1251.1"/><ellipse class="j" cx="1256.1" cy="1242.9"/><ellipse class="j" cx="1225.9" cy="1294.8"/><ellipse class="j" cx="1211.6" cy="1242.9"/><ellipse class="j" cx="1205.5" cy="1189.7"/><ellipse class="j" cx="1237.1" cy="1101.3"/><ellipse class="j" cx="1226.7" cy="1245.7"/><ellipse class="j" cx="1259.3" cy="1245.7"/><ellipse class="j" cx="1209.5" cy="1218.9"/><ellipse class="j" cx="1240.0" cy="1251.1"/><ellipse class="j" cx="1200.9" cy="1268.4"/><ellipse class="j" cx="1268.6" cy="1304.0"/><ellipse class="j" cx="1251.5" cy="1213.7"/><ellipse class="j" cx="1267.8" cy="1284.4"/><ellipse class="j" cx="1267.3" cy="1268.4"/><ellipse class="j" cx="1200.8" cy="1308.2"/><ellipse class="j" cx="1228.5" cy="1138.8"/><ellipse class="j" cx="1206.3" cy="1272.5"/><ellipse class="j" cx="1263.1" cy="1290.3"/><ellipse class="j" cx="1254.0" cy="1263.5"/><ellipse class="j" cx="1200.9" cy="1263.5"/><ellipse class="j" cx="1251.4" cy="1272.5"/><ellipse class="j" cx="1239.0" cy="1272.5"/><ellipse class="j" cx="1266.8" cy="1297.2"/><ellipse class="j" cx="1266.4" cy="1272.5"/><ellipse class="j" cx="1268.5" cy="1224.9"/><ellipse class="j" cx="1237.7" cy="1288.5"/><ellipse class="j" cx="1233.6" cy="1305.2"/><ellipse class="j" cx="1214.5" cy="1301.0"/><ellipse class="j" cx="1268.2" cy="1299.3"/><ellipse class="j" cx="1244.5" cy="1176.2"/><ellipse class="j" cx="1253.3" cy="1112.2"/><ellipse class="j" cx="1232.5" cy="1232.4"/><ellipse class="j" cx="1199.5" cy="1176.2"/><ellipse class="j" cx="1259.4" cy="1279.2"/><ellipse class="j" cx="1255.5" cy="1189.7"/><ellipse class="j" cx="1234.1" cy="951.5"/><ellipse class="j" cx="1204.3" cy="1268.4"/><ellipse class="j" cx="1258.5" cy="1138.8"/><ellipse class="j" cx="1246.7" cy="1282.0"/><ellipse class="j" cx="1235.1" cy="1284.4"/><ellipse class="j" cx="1254.3" cy="1284.4"/><ellipse class="j" cx="1240.9" cy="1251.1"/><ellipse class="j" cx="1267.5" cy="1138.8"/><ellipse class="j" cx="1269.5" cy="1213.7"/><ellipse class="j" cx="1236.5" cy="1232.4"/><ellipse class="j" cx="1255.5" cy="1138.8"/><ellipse class="j" cx="1223.9" cy="1251.1"/><ellipse class="j" cx="1228.9" cy="1282.0"/><ellipse class="j" cx="1231.6" cy="1257.8"/><ellipse class="j" cx="1257.4" cy="1242.9"/><ellipse class="j" cx="1240.2" cy="1251.1"/><ellipse class="j" cx="1244.2" cy="1263.5"/><ellipse class="j" cx="1212.1" cy="1282.0"/><ellipse class="j" cx="1197.5" cy="1232.4"/><ellipse class="j" cx="1218.2" cy="1257.8"/><ellipse class="j" cx="1201.0" cy="1242.9"/><ellipse class="j" cx="1229.1" cy="1279.2"/><ellipse class="j" cx="1206.7" cy="1288.5"/><ellipse class="j" cx="1218.8" cy="1263.5"/><ellipse class="j" cx="1260.6" cy="1299.3"/><ellipse class="j" cx="1230.4" cy="1294.8"/><ellipse class="j" cx="1258.8" cy="1284.4"/><ellipse class="j" cx="1251.5" cy="1159.7"/><ellipse class="j" cx="1212.5" cy="1185.6"/><ellipse class="j" cx="1204.3" cy="1272.5"/><ellipse class="j" cx="1201.6" cy="1251.1"/><ellipse class="j" cx="1216.8" cy="1279.2"/><ellipse class="j" cx="1223.1" cy="1242.9"/><ellipse class="j" cx="1238.8" cy="1263.5"/><ellipse class="j" cx="1231.5" cy="1138.8"/><ellipse class="j" cx="1244.5" cy="1218.9"/><ellipse class="j" cx="1204.5" cy="1201.3"/><ellipse class="j" cx="1237.5" cy="1138.8"/><ellipse class="j" cx="1219.5" cy="1302.6"/><ellipse class="j" cx="1205.8" cy="1279.2"/><ellipse class="j" cx="1208.5" cy="1138.8"/><ellipse class="j" cx="1241.9" cy="1294.8"/><ellipse class="j" cx="1249.8" cy="1268.4"/><ellipse class="j" cx="1199.5" cy="1232.4"/><ellipse class="j" cx="1265.9" cy="1304.0"/><ellipse class="j" cx="1200.0" cy="1257.8"/><ellipse class="j" cx="1267.1" cy="1272.5"/><ellipse class="j" cx="1254.5" cy="1138.8"/><ellipse class="j" cx="1216.5" cy="1201.3"/><ellipse class="j" cx="1224.5" cy="1201.3"/><ellipse class="j" cx="1226.5" cy="1159.7"/><ellipse class="j" cx="1239.4" cy="1263.5"/><ellipse class="j" cx="1240.5" cy="1232.4"/><ellipse class="j" cx="1247.5" cy="1176.2"/><ellipse class="j" cx="1224.5" cy="1232.4"/><ellipse class="j" cx="1213.3" cy="1282.0"/><ellipse class="j" cx="1247.5" cy="1299.3"/><ellipse class="j" cx="1230.1" cy="1306.3"/><ellipse class="j" cx="1258.8" cy="1276.1"/><ellipse class="j" cx="1208.4" cy="1294.8"/><ellipse class="j" cx="1253.5" cy="1213.7"/><ellipse class="j" cx="1209.1" cy="1306.3"/><ellipse class="j" cx="1261.3" cy="1263.5"/><ellipse class="j" cx="1206.2" cy="1307.3"/><ellipse class="j" cx="1246.5" cy="1201.3"/><ellipse class="j" cx="1258.7" cy="1288.5"/><ellipse class="j" cx="1265.8" cy="1272.5"/><ellipse class="j" cx="1248.0" cy="1304.0"/><ellipse class="j" cx="1206.5" cy="1138.8"/><ellipse class="j" cx="1244.5" cy="1201.3"/><ellipse class="j" cx="1242.3" cy="1292.0"/><ellipse class="j" cx="1230.0" cy="951.5"/><ellipse class="j" cx="1265.8" cy="1268.4"/><ellipse class="j" cx="1270.5" cy="1284.4"/><ellipse class="j" cx="1269.5" cy="1257.8"/><ellipse class="j" cx="1231.6" cy="1279.2"/><ellipse class="j" cx="1260.8" cy="1294.8"/><ellipse class="j" cx="1254.2" cy="1308.2"/><ellipse class="j" cx="1208.1" cy="1284.4"/><ellipse class="j" cx="1214.1" cy="1251.1"/><ellipse class="j" cx="1218.7" cy="1268.4"/><ellipse class="j" cx="1261.3" cy="1242.9"/><ellipse class="j" cx="1240.5" cy="1138.8"/><ellipse class="j" cx="1210.6" cy="1290.3"/><ellipse class="j" cx="1226.8" cy="1245.7"/><ellipse class="j" cx="1269.7" cy="1268.4"/><ellipse class="j" cx="1236.5" cy="1263.5"/><ellipse class="j" cx="1224.5" cy="1185.6"/><ellipse class="j" cx="1225.0" cy="1294.8"/><ellipse class="j" cx="1244.5" cy="1138.8"/><ellipse class="j" cx="1229.3" cy="1301.0"/><ellipse class="j" cx="1267.4" cy="1263.5"/><ellipse class="j" cx="1251.9" cy="1294.8"/><ellipse class="j" cx="1256.5" cy="1232.4"/><ellipse class="j" cx="1226.5" cy="1232.4"/><ellipse class="j" cx="1203.5" cy="1138.8"/><ellipse class="j" cx="1209.0" cy="1257.8"/><ellipse class="j" cx="1217.3" cy="1263.5"/><ellipse class="j" cx="1270.5" cy="1138.8"/><ellipse class="j" cx="1212.5" cy="1272.5"/><ellipse class="j" cx="1238.4" cy="1282.0"/><ellipse class="j" cx="1264.5" cy="1138.8"/><ellipse class="j" cx="1238.5" cy="1232.4"/><ellipse class="j" cx="1264.5" cy="1232.4"/><ellipse class="j" cx="1248.5" cy="1286.6"/><ellipse class="j" cx="1269.9" cy="1263.5"/><ellipse class="j" cx="1245.5" cy="1297.2"/><ellipse class="j" cx="1252.5" cy="1232.4"/><ellipse class="j" cx="1222.5" cy="1185.6"/><ellipse class="j" cx="1234.5" cy="1257.8"/><ellipse class="j" cx="1209.3" cy="1297.2"/><ellipse class="j" cx="1247.4" cy="1242.9"/><ellipse class="j" cx="1264.5" cy="1224.9"/><ellipse class="j" cx="1232.7" cy="1245.7"/><ellipse class="j" cx="1213.5" cy="1218.9"/><ellipse class="j" cx="1224.1" cy="1288.5"/><ellipse class="j" cx="1263.7" cy="1288.5"/><ellipse class="j" cx="1212.7" cy="1294.8"/><ellipse class="j" cx="1252.3" cy="1282.0"/><ellipse class="j" cx="1201.5" cy="1232.4"/><ellipse class="j" cx="1254.5" cy="1232.4"/><ellipse class="j" cx="1201.5" cy="1201.3"/><ellipse class="j" cx="1220.5" cy="1232.4"/><ellipse class="j" cx="1251.6" cy="1279.2"/><ellipse class="j" cx="1210.7" cy="1251.1"/><ellipse class="j" cx="1222.2" cy="1251.1"/><ellipse class="j" cx="1261.5" cy="1185.6"/><ellipse class="j" cx="1243.6" cy="1279.2"/><ellipse class="j" cx="1212.5" cy="1138.8"/><ellipse class="j" cx="1225.4" cy="1304.0"/><ellipse class="j" cx="1252.5" cy="1138.8"/><ellipse class="j" cx="1254.4" cy="1292.0"/><ellipse class="j" cx="1239.0" cy="1301.0"/><ellipse class="j" cx="1270.3" cy="1276.1"/><ellipse class="j" cx="1261.5" cy="1138.8"/><ellipse class="j" cx="1201.7" cy="1257.8"/><ellipse class="j" cx="1246.5" cy="1232.4"/><ellipse class="j" cx="1229.2" cy="1304.0"/><ellipse class="j" cx="1263.6" cy="1302.6"/><ellipse class="j" cx="1212.3" cy="1076.2"/><ellipse class="j" cx="1196.5" cy="1213.7"/><ellipse class="j" cx="1232.2" cy="1251.1"/><ellipse class="j" cx="1256.4" cy="1292.0"/><ellipse class="j" cx="1204.5" cy="1138.8"/><ellipse class="j" cx="1215.5" cy="1288.5"/><ellipse class="j" cx="1209.5" cy="1185.6"/><ellipse class="j" cx="1236.7" cy="1301.0"/><ellipse class="j" cx="1265.5" cy="1284.4"/><ellipse class="j" cx="1234.5" cy="1138.8"/><ellipse class="j" cx="1239.5" cy="1284.4"/><ellipse class="j" cx="1244.5" cy="1232.4"/><ellipse class="j" cx="1262.5" cy="1232.4"/><ellipse class="j" cx="1211.5" cy="1218.9"/><ellipse class="j" cx="1249.7" cy="1279.2"/><ellipse class="j" cx="1219.5" cy="1189.7"/></g><rect x="1192.0" y="1320.0" width="85.0" height="12" rx="7" ry="6" fill="#00B6EB"/></g>
<g><rect x="1345.5" y="1251.1" width="73.6" height="74.9" fill="#A58AFF" fill-opacity="0.35" stroke="none"/><path d="M1382.3 1251.1V1138.8" stroke="#000" stroke-width="5.4" fill="none"/><rect x="1345.5" y="1251.1" width="73.6" height="74.9" fill="none" stroke="#000" stroke-width="4.8" stroke-linejoin="round"/><path d="M1345.5 1284.4H1419.1" stroke="#000" stroke-width="8.8" fill="none"/><g fill="#000" fill-opacity="0.33"><ellipse class="o" cx="1382.3" cy="1076.2"/><ellipse class="o" cx="1382.3" cy="1112.2"/></g><g fill="#A58AFF" fill-opacity="0.25"><ellipse class="j" cx="1407.3" cy="1258.6"/><ellipse class="j" cx="1377.3" cy="1326.0"/><ellipse class="j" cx="1354.8" cy="1326.0"/><ellipse class="j" cx="1397.3" cy="1262.3"/><ellipse class="j" cx="1354.8" cy="1201.3"/><ellipse class="j" cx="1358.3" cy="1076.2"/><ellipse class="j" cx="1398.3" cy="1326.0"/><ellipse class="j" cx="1377.3" cy="1112.2"/><ellipse class="j" cx="1356.3" cy="1326.0"/><ellipse class="j" cx="1392.3" cy="1269.8"/><ellipse class="j" cx="1362.5" cy="1138.8"/><ellipse class="j" cx="1371.8" cy="1201.3"/><ellipse class="j" cx="1394.3" cy="1269.8"/><ellipse class="j" cx="1397.8" cy="1326.0"/><ellipse class="j" cx="1418.3" cy="1241.7"/><ellipse class="j" cx="1373.3" cy="1201.3"/><ellipse class="j" cx="1418.3" cy="1326.0"/><ellipse class="j" cx="1413.3" cy="1264.2"/><ellipse class="j" cx="1355.3" cy="1263.5"/><ellipse class="j" cx="1371.8" cy="1247.4"/><ellipse class="j" cx="1397.1" cy="1326.0"/><ellipse class="j" cx="1396.3" cy="1269.8"/><ellipse class="j" cx="1356.3" cy="1263.5"/><ellipse class="j" cx="1402.8" cy="1223.8"/></g></g>
<g><rect x="1493.4" y="1263.8" width="73.6" height="62.2" fill="#FB61D7" fill-opacity="0.35" stroke="none"/><path d="M1530.2 1263.8V1176.2" stroke="#000" stroke-width="5.4" fill="none"/><rect x="1493.4" y="1263.8" width="73.6" height="62.2" fill="none" stroke="#000" stroke-width="4.8" stroke-linejoin="round"/><path d="M1493.4 1291.5H1567.0" stroke="#000" stroke-width="8.8" fill="none"/><g fill="#000" fill-opacity="0.33"><ellipse class="o" cx="1530.2" cy="1091.9"/><ellipse class="o" cx="1530.2" cy="1138.8"/><ellipse class="o" cx="1530.2" cy="1138.8"/><ellipse class="o" cx="1530.2" cy="1138.8"/><ellipse class="o" cx="1530.2" cy="1153.4"/><ellipse class="o" cx="1530.2" cy="1153.4"/><ellipse class="o" cx="1530.2" cy="1165.3"/><ellipse class="o" cx="1530.2" cy="1165.3"/></g><g fill="#FB61D7" fill-opacity="0.25"><ellipse class="j" cx="1533.4" cy="1282.0"/><ellipse class="j" cx="1523.1" cy="1251.1"/><ellipse class="j" cx="1499.8" cy="1257.8"/><ellipse class="j" cx="1552.1" cy="1284.4"/><ellipse class="j" cx="1560.7" cy="1297.2"/><ellipse class="j" cx="1530.9" cy="1299.3"/><ellipse class="j" cx="1565.6" cy="1306.3"/><ellipse class="j" cx="1509.5" cy="1282.0"/><ellipse class="j" cx="1534.9" cy="1259.9"/><ellipse class="j" cx="1495.2" cy="1201.3"/><ellipse class="j" cx="1516.2" cy="1201.3"/><ellipse class="j" cx="1507.3" cy="1282.0"/><ellipse class="j" cx="1522.2" cy="1232.4"/><ellipse class="j" cx="1523.7" cy="1284.4"/><ellipse class="j" cx="1500.2" cy="1209.9"/><ellipse class="j" cx="1513.5" cy="1272.5"/><ellipse class="j" cx="1494.2" cy="1232.4"/><ellipse class="j" cx="1530.0" cy="1276.1"/><ellipse class="j" cx="1564.2" cy="1282.0"/><ellipse class="j" cx="1524.2" cy="1224.9"/><ellipse class="j" cx="1531.1" cy="1251.1"/><ellipse class="j" cx="1529.4" cy="1288.5"/><ellipse class="j" cx="1510.1" cy="1257.8"/><ellipse class="j" cx="1542.5" cy="1251.1"/><ellipse class="j" cx="1511.4" cy="1288.5"/><ellipse class="j" cx="1544.2" cy="1213.7"/><ellipse class="j" cx="1502.7" cy="1257.8"/><ellipse class="j" cx="1549.7" cy="1257.8"/><ellipse class="j" cx="1520.2" cy="1224.9"/><ellipse class="j" cx="1542.2" cy="1218.9"/><ellipse class="j" cx="1513.2" cy="1201.3"/><ellipse class="j" cx="1498.4" cy="1268.4"/><ellipse class="j" cx="1500.5" cy="1304.0"/><ellipse class="j" cx="1543.3" cy="1259.9"/><ellipse class="j" cx="1518.2" cy="1194.9"/><ellipse class="j" cx="1560.2" cy="1224.9"/><ellipse class="j" cx="1528.3" cy="1251.1"/><ellipse class="j" cx="1543.6" cy="1292.0"/><ellipse class="j" cx="1530.4" cy="1292.0"/><ellipse class="j" cx="1534.2" cy="1232.4"/><ellipse class="j" cx="1540.3" cy="1282.0"/><ellipse class="j" cx="1543.5" cy="1272.5"/><ellipse class="j" cx="1501.5" cy="1257.8"/><ellipse class="j" cx="1519.8" cy="1286.6"/><ellipse class="j" cx="1505.0" cy="1276.1"/><ellipse class="j" cx="1501.6" cy="1286.6"/><ellipse class="j" cx="1548.7" cy="1242.9"/><ellipse class="j" cx="1560.5" cy="1288.5"/><ellipse class="j" cx="1538.3" cy="1276.1"/><ellipse class="j" cx="1550.2" cy="1213.7"/><ellipse class="j" cx="1517.7" cy="1153.4"/><ellipse class="j" cx="1550.2" cy="1232.4"/><ellipse class="j" cx="1560.2" cy="1272.5"/><ellipse class="j" cx="1560.8" cy="1302.6"/><ellipse class="j" cx="1510.2" cy="1218.9"/><ellipse class="j" cx="1560.2" cy="1232.4"/><ellipse class="j" cx="1512.2" cy="1213.7"/><ellipse class="j" cx="1544.5" cy="1268.4"/><ellipse class="j" cx="1516.2" cy="1218.9"/><ellipse class="j" cx="1548.2" cy="1201.3"/><ellipse class="j" cx="1518.2" cy="1232.4"/><ellipse class="j" cx="1494.2" cy="1209.9"/><ellipse class="j" cx="1524.2" cy="1185.6"/><ellipse class="j" cx="1500.6" cy="1257.8"/><ellipse class="j" cx="1545.6" cy="1091.9"/><ellipse class="j" cx="1548.7" cy="1305.2"/><ellipse class="j" cx="1503.9" cy="1306.3"/><ellipse class="j" cx="1546.9" cy="1297.2"/><ellipse class="j" cx="1498.2" cy="1259.9"/><ellipse class="j" cx="1519.7" cy="1276.1"/><ellipse class="j" cx="1550.2" cy="1201.3"/><ellipse class="j" cx="1564.3" cy="1284.4"/><ellipse class="j" cx="1557.7" cy="1286.6"/><ellipse class="j" cx="1538.2" cy="1232.4"/><ellipse class="j" cx="1538.2" cy="1224.9"/><ellipse class="j" cx="1564.2" cy="1232.4"/><ellipse class="j" cx="1531.9" cy="1288.5"/><ellipse class="j" cx="1553.6" cy="1138.8"/><ellipse class="j" cx="1553.6" cy="1251.1"/><ellipse class="j" cx="1525.9" cy="1251.1"/><ellipse class="j" cx="1538.2" cy="1189.7"/><ellipse class="j" cx="1559.6" cy="1138.8"/><ellipse class="j" cx="1526.2" cy="1232.4"/><ellipse class="j" cx="1508.7" cy="1305.2"/><ellipse class="j" cx="1559.6" cy="1306.3"/><ellipse class="j" cx="1542.2" cy="1232.4"/><ellipse class="j" cx="1564.4" cy="1302.6"/><ellipse class="j" cx="1542.7" cy="1297.2"/><ellipse class="j" cx="1524.1" cy="1242.9"/><ellipse class="j" cx="1495.5" cy="1294.8"/><ellipse class="j" cx="1536.4" cy="1306.3"/><ellipse class="j" cx="1496.2" cy="1189.7"/><ellipse class="j" cx="1556.2" cy="1232.4"/><ellipse class="j" cx="1532.2" cy="1276.1"/><ellipse class="j" cx="1548.5" cy="1259.9"/><ellipse class="j" cx="1515.2" cy="1194.9"/><ellipse class="j" cx="1554.2" cy="1213.7"/><ellipse class="j" cx="1554.7" cy="1242.9"/><ellipse class="j" cx="1566.5" cy="1165.3"/><ellipse class="j" cx="1520.7" cy="1286.6"/><ellipse class="j" cx="1546.2" cy="1194.9"/><ellipse class="j" cx="1517.4" cy="1306.3"/><ellipse class="j" cx="1516.0" cy="1276.1"/><ellipse class="j" cx="1513.3" cy="1301.0"/><ellipse class="j" cx="1558.3" cy="1251.1"/><ellipse class="j" cx="1553.1" cy="1257.8"/><ellipse class="j" cx="1498.8" cy="1268.4"/><ellipse class="j" cx="1534.1" cy="1251.1"/><ellipse class="j" cx="1564.0" cy="1292.0"/><ellipse class="j" cx="1564.2" cy="1224.9"/><ellipse class="j" cx="1543.2" cy="1251.1"/><ellipse class="j" cx="1536.9" cy="1242.9"/><ellipse class="j" cx="1565.6" cy="1286.6"/><ellipse class="j" cx="1543.4" cy="1282.0"/><ellipse class="j" cx="1564.1" cy="1288.5"/><ellipse class="j" cx="1511.4" cy="1307.3"/><ellipse class="j" cx="1548.2" cy="1213.7"/><ellipse class="j" cx="1553.6" cy="1286.6"/><ellipse class="j" cx="1527.5" cy="1242.9"/><ellipse class="j" cx="1540.2" cy="1185.6"/><ellipse class="j" cx="1500.8" cy="1282.0"/><ellipse class="j" cx="1558.2" cy="1138.8"/><ellipse class="j" cx="1496.2" cy="1232.4"/><ellipse class="j" cx="1494.2" cy="1189.7"/><ellipse class="j" cx="1518.9" cy="1276.1"/><ellipse class="j" cx="1536.7" cy="1276.1"/><ellipse class="j" cx="1561.0" cy="1302.6"/><ellipse class="j" cx="1525.1" cy="1276.1"/><ellipse class="j" cx="1495.7" cy="1185.6"/><ellipse class="j" cx="1565.5" cy="1138.8"/><ellipse class="j" cx="1529.6" cy="1251.1"/><ellipse class="j" cx="1559.1" cy="1242.9"/><ellipse class="j" cx="1523.6" cy="1138.8"/><ellipse class="j" cx="1547.5" cy="1251.1"/><ellipse class="j" cx="1523.0" cy="1284.4"/><ellipse class="j" cx="1496.1" cy="1242.9"/><ellipse class="j" cx="1516.2" cy="1224.9"/><ellipse class="j" cx="1527.5" cy="1242.9"/><ellipse class="j" cx="1544.2" cy="1224.9"/><ellipse class="j" cx="1522.7" cy="1294.8"/><ellipse class="j" cx="1497.5" cy="1288.5"/><ellipse class="j" cx="1552.2" cy="1218.9"/><ellipse class="j" cx="1526.6" cy="1304.0"/><ellipse class="j" cx="1566.2" cy="1232.4"/><ellipse class="j" cx="1497.1" cy="1251.1"/><ellipse class="j" cx="1559.6" cy="1294.8"/><ellipse class="j" cx="1563.1" cy="1304.0"/><ellipse class="j" cx="1505.7" cy="1165.3"/><ellipse class="j" cx="1499.4" cy="1290.3"/><ellipse class="j" cx="1546.2" cy="1232.4"/><ellipse class="j" cx="1551.6" cy="1176.2"/><ellipse class="j" cx="1492.2" cy="1232.4"/><ellipse class="j" cx="1539.8" cy="1272.5"/><ellipse class="j" cx="1497.2" cy="1213.7"/><ellipse class="j" cx="1549.6" cy="1257.8"/></g><rect x="1487.7" y="1320.0" width="85.0" height="12" rx="7" ry="6" fill="#FB61D7"/></g>
<path d="M554.6 932.8V1344.9H1619.4" fill="none" stroke="#000" stroke-width="2.6"/>
<path d="M547.2 951.5H554.7" stroke="#000" stroke-width="2.2"/>
<text  transform="translate(479.44,960.70) scale(1.2100,1)" font-size="25.60" fill="#000" stroke="#000" stroke-width="0.45">2.00</text>
<path d="M547.2 1045.1H554.7" stroke="#000" stroke-width="2.2"/>
<text  transform="translate(479.59,1054.33) scale(1.2100,1)" font-size="25.60" fill="#000" stroke="#000" stroke-width="0.45">1.75</text>
<path d="M547.2 1138.8H554.7" stroke="#000" stroke-width="2.2"/>
<text  transform="translate(479.44,1147.95) scale(1.2100,1)" font-size="25.60" fill="#000" stroke="#000" stroke-width="0.45">1.50</text>
<path d="M547.2 1232.4H554.7" stroke="#000" stroke-width="2.2"/>
<text  transform="translate(479.59,1241.58) scale(1.2100,1)" font-size="25.60" fill="#000" stroke="#000" stroke-width="0.45">1.25</text>
<path d="M547.2 1326.0H554.7" stroke="#000" stroke-width="2.2"/>
<text  transform="translate(479.44,1335.20) scale(1.2100,1)" font-size="25.60" fill="#000" stroke="#000" stroke-width="0.45">1.00</text>
<path d="M643.0 1344.9V1351.8" stroke="#000" stroke-width="2.4"/>
<path d="M790.9 1344.9V1351.8" stroke="#000" stroke-width="2.4"/>
<path d="M938.7 1344.9V1351.8" stroke="#000" stroke-width="2.4"/>
<path d="M1086.6 1344.9V1351.8" stroke="#000" stroke-width="2.4"/>
<path d="M1234.5 1344.9V1351.8" stroke="#000" stroke-width="2.4"/>
<path d="M1382.3 1344.9V1351.8" stroke="#000" stroke-width="2.4"/>
<path d="M1530.2 1344.9V1351.8" stroke="#000" stroke-width="2.4"/>
<text transform="translate(665.80,1431.54) rotate(-90) scale(1.0000,1.1300)" font-size="27.00" fill="#000" stroke="#000" stroke-width="0.45">acinar</text>
<text transform="translate(813.67,1424.52) rotate(-90) scale(1.0000,1.1300)" font-size="27.00" fill="#000" stroke="#000" stroke-width="0.45">alpha</text>
<text transform="translate(961.54,1411.02) rotate(-90) scale(1.0000,1.1300)" font-size="27.00" fill="#000" stroke="#000" stroke-width="0.45">beta</text>
<text transform="translate(1109.41,1416.95) rotate(-90) scale(1.0000,1.1300)" font-size="27.00" fill="#000" stroke="#000" stroke-width="0.45">delta</text>
<text transform="translate(1257.28,1428.70) rotate(-90) scale(1.0000,1.1300)" font-size="27.00" fill="#000" stroke="#000" stroke-width="0.45">ductal</text>
<text transform="translate(1405.15,1523.20) rotate(-90) scale(1.0000,1.1300)" font-size="27.00" fill="#000" stroke="#000" stroke-width="0.45">mesenchymal</text>
<text transform="translate(1553.02,1439.77) rotate(-90) scale(1.0000,1.1300)" font-size="27.00" fill="#000" stroke="#000" stroke-width="0.45">unsure</text>
<text transform="translate(466.70,1288.16) rotate(-90) scale(1.0013,1.2800)" font-size="27.00" fill="#000" stroke="#000" stroke-width="0.45">mean isoforms / receptor</text>
<text x="928.42" y="1535.70" font-size="33.51" fill="#000" stroke="#000" stroke-width="0.45">Pancreas scRNAseq</text>
<text x="951.23" y="1572.30" font-size="33.45" fill="#000" stroke="#000" stroke-width="0.45">inferred cell types</text>
<path d="M664.3 1567.6H907.8M1257.8 1567.6H1524.3" stroke="#666" stroke-width="1.7"/>
</g>
</svg>
</body></html>
